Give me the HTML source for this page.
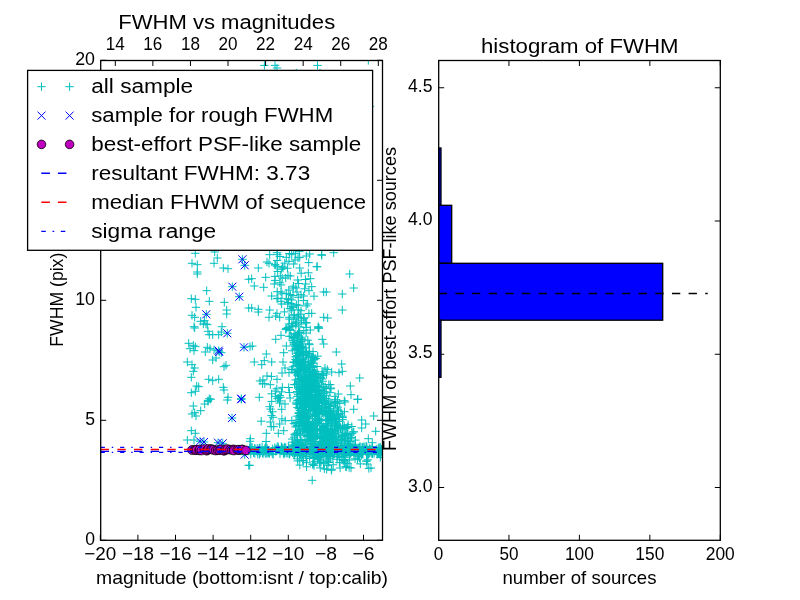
<!DOCTYPE html>
<html><head><meta charset="utf-8"><style>
html,body{margin:0;padding:0;background:#fff;}
svg{display:block;will-change:transform;}
text{font-family:"Liberation Sans",sans-serif;fill:#000;}
</style></head><body>
<svg width="800" height="600" viewBox="0 0 800 600">
<defs><clipPath id="clipL"><rect x="100.7" y="60.5" width="281.8" height="479.79999999999995"/></clipPath></defs>
<rect width="800" height="600" fill="#fff"/>
<g clip-path="url(#clipL)"><path d="M191.1 253.3h8.4M195.3 249.1v8.4M187.8 263.3h8.4M192.0 259.1v8.4M193.1 264.7h8.4M197.3 260.5v8.4M193.1 272.0h8.4M197.3 267.8v8.4M193.1 274.0h8.4M197.3 269.8v8.4M213.1 258.0h8.4M217.3 253.8v8.4M209.8 263.3h8.4M214.0 259.1v8.4M219.1 268.0h8.4M223.3 263.8v8.4M223.8 268.7h8.4M228.0 264.5v8.4M202.5 290.7h8.4M206.7 286.5v8.4M187.1 298.7h8.4M191.3 294.5v8.4M191.1 299.3h8.4M195.3 295.1v8.4M205.1 301.3h8.4M209.3 297.1v8.4M191.8 307.3h8.4M196.0 303.1v8.4M220.1 302.3h8.4M224.3 298.1v8.4M222.5 310.0h8.4M226.7 305.8v8.4M222.5 314.0h8.4M226.7 309.8v8.4M187.8 315.3h8.4M192.0 311.1v8.4M190.5 317.3h8.4M194.7 313.1v8.4M200.2 320.7h8.4M204.4 316.5v8.4M201.8 324.0h8.4M206.0 319.8v8.4M196.5 321.3h8.4M200.7 317.1v8.4M210.5 252.0h8.4M214.7 247.8v8.4M244.5 279.3h8.4M248.7 275.1v8.4M244.5 308.0h8.4M248.7 303.8v8.4M189.8 326.7h8.4M194.0 322.5v8.4M217.8 326.7h8.4M222.0 322.5v8.4M265.5 254.7h8.4M269.7 250.5v8.4M272.8 252.7h8.4M277.0 248.5v8.4M262.8 262.0h8.4M267.0 257.8v8.4M264.8 263.3h8.4M269.0 259.1v8.4M254.1 268.0h8.4M258.3 263.8v8.4M270.8 264.7h8.4M275.0 260.5v8.4M272.8 266.7h8.4M277.0 262.5v8.4M278.8 268.0h8.4M283.0 263.8v8.4M282.1 257.3h8.4M286.3 253.1v8.4M284.8 261.3h8.4M289.0 257.1v8.4M287.5 254.7h8.4M291.7 250.5v8.4M291.5 253.3h8.4M295.7 249.1v8.4M289.5 264.0h8.4M293.7 259.8v8.4M295.5 268.0h8.4M299.7 263.8v8.4M295.5 257.3h8.4M299.7 253.1v8.4M302.1 256.0h8.4M306.3 251.8v8.4M305.5 254.0h8.4M309.7 249.8v8.4M317.5 254.7h8.4M321.7 250.5v8.4M312.8 266.7h8.4M317.0 262.5v8.4M247.5 278.7h8.4M251.7 274.5v8.4M261.5 277.3h8.4M265.7 273.1v8.4M250.1 286.0h8.4M254.3 281.8v8.4M259.5 287.3h8.4M263.7 283.1v8.4M270.1 284.0h8.4M274.3 279.8v8.4M276.1 276.0h8.4M280.3 271.8v8.4M281.5 278.0h8.4M285.7 273.8v8.4M286.1 276.0h8.4M290.3 271.8v8.4M293.5 280.0h8.4M297.7 275.8v8.4M306.1 278.7h8.4M310.3 274.5v8.4M301.5 284.0h8.4M305.7 279.8v8.4M307.5 286.7h8.4M311.7 282.5v8.4M267.5 296.0h8.4M271.7 291.8v8.4M276.8 292.0h8.4M281.0 287.8v8.4M282.1 293.3h8.4M286.3 289.1v8.4M288.8 288.0h8.4M293.0 283.8v8.4M292.8 292.0h8.4M297.0 287.8v8.4M296.8 294.7h8.4M301.0 290.5v8.4M304.8 290.7h8.4M309.0 286.5v8.4M319.5 292.0h8.4M323.7 287.8v8.4M272.8 298.7h8.4M277.0 294.5v8.4M276.8 301.3h8.4M281.0 297.1v8.4M282.1 298.7h8.4M286.3 294.5v8.4M287.5 300.0h8.4M291.7 295.8v8.4M294.1 297.3h8.4M298.3 293.1v8.4M299.5 296.0h8.4M303.7 291.8v8.4M247.5 308.0h8.4M251.7 303.8v8.4M254.1 309.3h8.4M258.3 305.1v8.4M254.1 312.0h8.4M258.3 307.8v8.4M265.5 310.0h8.4M269.7 305.8v8.4M272.8 313.3h8.4M277.0 309.1v8.4M277.5 304.0h8.4M281.7 299.8v8.4M283.5 304.0h8.4M287.7 299.8v8.4M288.8 306.7h8.4M293.0 302.5v8.4M294.1 305.3h8.4M298.3 301.1v8.4M303.5 304.0h8.4M307.7 299.8v8.4M296.8 310.7h8.4M301.0 306.5v8.4M307.5 313.3h8.4M311.7 309.1v8.4M264.8 317.3h8.4M269.0 313.1v8.4M271.5 316.0h8.4M275.7 311.8v8.4M275.5 317.3h8.4M279.7 313.1v8.4M284.8 317.3h8.4M289.0 313.1v8.4M290.1 314.7h8.4M294.3 310.5v8.4M294.1 317.3h8.4M298.3 313.1v8.4M299.5 318.7h8.4M303.7 314.5v8.4M291.5 322.7h8.4M295.7 318.5v8.4M284.8 324.0h8.4M289.0 319.8v8.4M296.8 324.0h8.4M301.0 319.8v8.4M287.5 326.7h8.4M291.7 322.5v8.4M314.1 328.0h8.4M318.3 323.8v8.4M319.5 317.3h8.4M323.7 313.1v8.4M317.5 255.3h8.4M321.7 251.1v8.4M329.5 252.7h8.4M333.7 248.5v8.4M312.8 266.7h8.4M317.0 262.5v8.4M345.5 274.0h8.4M349.7 269.8v8.4M349.5 288.0h8.4M353.7 283.8v8.4M322.1 292.0h8.4M326.3 287.8v8.4M338.1 294.0h8.4M342.3 289.8v8.4M338.1 310.0h8.4M342.3 305.8v8.4M323.5 318.0h8.4M327.7 313.8v8.4M314.1 326.7h8.4M318.3 322.5v8.4M190.5 328.0h8.4M194.7 323.8v8.4M199.1 324.0h8.4M203.3 319.8v8.4M203.1 324.7h8.4M207.3 320.5v8.4M203.8 331.3h8.4M208.0 327.1v8.4M205.1 334.7h8.4M209.3 330.5v8.4M208.5 334.7h8.4M212.7 330.5v8.4M214.5 334.7h8.4M218.7 330.5v8.4M217.1 332.0h8.4M221.3 327.8v8.4M184.5 343.3h8.4M188.7 339.1v8.4M189.1 345.3h8.4M193.3 341.1v8.4M191.1 346.7h8.4M195.3 342.5v8.4M185.8 348.7h8.4M190.0 344.5v8.4M189.8 350.7h8.4M194.0 346.5v8.4M203.1 347.3h8.4M207.3 343.1v8.4M201.1 352.0h8.4M205.3 347.8v8.4M205.8 348.7h8.4M210.0 344.5v8.4M209.8 350.0h8.4M214.0 345.8v8.4M217.1 352.7h8.4M221.3 348.5v8.4M183.1 362.0h8.4M187.3 357.8v8.4M187.8 364.7h8.4M192.0 360.5v8.4M190.5 368.0h8.4M194.7 363.8v8.4M189.1 371.3h8.4M193.3 367.1v8.4M208.5 360.0h8.4M212.7 355.8v8.4M211.8 358.0h8.4M216.0 353.8v8.4M219.8 366.7h8.4M224.0 362.5v8.4M221.8 365.3h8.4M226.0 361.1v8.4M187.1 377.3h8.4M191.3 373.1v8.4M204.5 379.3h8.4M208.7 375.1v8.4M208.5 380.7h8.4M212.7 376.5v8.4M214.5 379.3h8.4M218.7 375.1v8.4M192.5 386.0h8.4M196.7 381.8v8.4M194.5 386.7h8.4M198.7 382.5v8.4M187.1 392.7h8.4M191.3 388.5v8.4M191.1 391.3h8.4M195.3 387.1v8.4M219.1 387.3h8.4M223.3 383.1v8.4M219.8 390.0h8.4M224.0 385.8v8.4M205.1 398.7h8.4M209.3 394.5v8.4M203.8 400.7h8.4M208.0 396.5v8.4M223.8 397.3h8.4M228.0 393.1v8.4M245.8 346.7h8.4M250.0 342.5v8.4M248.1 346.0h8.4M252.3 341.8v8.4M262.1 354.0h8.4M266.3 349.8v8.4M250.1 362.0h8.4M254.3 357.8v8.4M257.5 364.7h8.4M261.7 360.5v8.4M260.1 360.7h8.4M264.3 356.5v8.4M267.5 362.0h8.4M271.7 357.8v8.4M262.8 376.0h8.4M267.0 371.8v8.4M266.1 384.7h8.4M270.3 380.5v8.4M272.8 379.3h8.4M277.0 375.1v8.4M278.1 387.3h8.4M282.3 383.1v8.4M274.1 398.0h8.4M278.3 393.8v8.4M271.5 339.3h8.4M275.7 335.1v8.4M276.8 335.3h8.4M281.0 331.1v8.4M279.5 352.7h8.4M283.7 348.5v8.4M278.8 362.0h8.4M283.0 357.8v8.4M280.8 368.0h8.4M285.0 363.8v8.4M282.1 346.0h8.4M286.3 341.8v8.4M284.8 372.7h8.4M289.0 368.5v8.4M314.1 328.0h8.4M318.3 323.8v8.4M306.1 330.0h8.4M310.3 325.8v8.4M318.1 339.3h8.4M322.3 335.1v8.4M314.8 328.0h8.4M319.0 323.8v8.4M332.1 352.0h8.4M336.3 347.8v8.4M319.5 344.0h8.4M323.7 339.8v8.4M337.5 364.0h8.4M341.7 359.8v8.4M338.1 371.3h8.4M342.3 367.1v8.4M334.8 372.7h8.4M339.0 368.5v8.4M327.5 372.0h8.4M331.7 367.8v8.4M322.1 374.0h8.4M326.3 369.8v8.4M355.5 378.0h8.4M359.7 373.8v8.4M346.1 386.0h8.4M350.3 381.8v8.4M326.1 384.7h8.4M330.3 380.5v8.4M326.8 388.0h8.4M331.0 383.8v8.4M334.1 394.0h8.4M338.3 389.8v8.4M346.8 394.7h8.4M351.0 390.5v8.4M353.5 399.3h8.4M357.7 395.1v8.4M340.1 400.7h8.4M344.3 396.5v8.4M189.1 406.0h8.4M193.3 401.8v8.4M190.5 412.7h8.4M194.7 408.5v8.4M191.8 416.0h8.4M196.0 411.8v8.4M187.8 414.0h8.4M192.0 409.8v8.4M196.5 410.7h8.4M200.7 406.5v8.4M200.5 404.0h8.4M204.7 399.8v8.4M203.8 401.3h8.4M208.0 397.1v8.4M206.5 399.3h8.4M210.7 395.1v8.4M223.1 400.0h8.4M227.3 395.8v8.4M187.1 430.7h8.4M191.3 426.5v8.4M191.1 433.3h8.4M195.3 429.1v8.4M183.1 440.0h8.4M187.3 435.8v8.4M189.8 440.0h8.4M194.0 435.8v8.4M245.8 441.3h8.4M250.0 437.1v8.4M244.5 465.3h8.4M248.7 461.1v8.4M273.5 398.7h8.4M277.7 394.5v8.4M265.5 406.7h8.4M269.7 402.5v8.4M280.8 404.0h8.4M285.0 399.8v8.4M277.5 409.3h8.4M281.7 405.1v8.4M268.8 417.3h8.4M273.0 413.1v8.4M266.1 422.0h8.4M270.3 417.8v8.4M275.5 424.0h8.4M279.7 419.8v8.4M269.5 426.7h8.4M273.7 422.5v8.4M262.1 433.3h8.4M266.3 429.1v8.4M274.1 433.3h8.4M278.3 429.1v8.4M279.5 430.7h8.4M283.7 426.5v8.4M246.1 438.7h8.4M250.3 434.5v8.4M245.5 465.3h8.4M249.7 461.1v8.4M353.5 399.3h8.4M357.7 395.1v8.4M340.8 402.0h8.4M345.0 397.8v8.4M349.5 409.3h8.4M353.7 405.1v8.4M369.5 416.0h8.4M373.7 411.8v8.4M357.5 420.0h8.4M361.7 415.8v8.4M361.5 424.0h8.4M365.7 419.8v8.4M357.5 428.0h8.4M361.7 423.8v8.4M371.5 431.3h8.4M375.7 427.1v8.4M364.1 438.7h8.4M368.3 434.5v8.4M368.1 442.7h8.4M372.3 438.5v8.4M362.8 464.0h8.4M367.0 459.8v8.4M366.8 468.0h8.4M371.0 463.8v8.4M327.5 469.3h8.4M331.7 465.1v8.4M346.8 468.0h8.4M351.0 463.8v8.4M376.1 457.3h8.4M380.3 453.1v8.4M308.0 480.3h8.4M312.2 476.1v8.4M327.1 470.3h8.4M331.3 466.1v8.4M344.9 467.5h8.4M349.1 463.3v8.4M364.6 468.4h8.4M368.8 464.2v8.4M260.2 65.4h8.4M264.4 61.2v8.4M270.8 65.4h8.4M275.0 61.2v8.4M272.8 68.0h8.4M277.0 63.8v8.4M279.8 74.0h8.4M284.0 69.8v8.4M292.1 73.0h8.4M296.3 68.8v8.4M295.8 74.0h8.4M300.0 69.8v8.4M313.3 65.4h8.4M317.5 61.2v8.4M315.8 73.0h8.4M320.0 68.8v8.4M364.1 60.5h8.4M368.3 56.3v8.4M365.8 106.3h8.4M370.0 102.1v8.4M238.2 259.3h8.4M242.4 255.1v8.4M240.5 265.3h8.4M244.7 261.1v8.4M228.1 286.7h8.4M232.3 282.5v8.4M235.1 296.7h8.4M239.3 292.5v8.4M202.1 314.3h8.4M206.3 310.1v8.4M223.1 333.3h8.4M227.3 329.1v8.4M214.5 350.7h8.4M218.7 346.5v8.4M215.1 352.0h8.4M219.3 347.8v8.4M239.8 347.3h8.4M244.0 343.1v8.4M237.1 398.7h8.4M241.3 394.5v8.4M237.1 399.3h8.4M241.3 395.1v8.4M227.8 418.0h8.4M232.0 413.8v8.4M195.8 441.3h8.4M200.0 437.1v8.4M199.8 442.0h8.4M204.0 437.8v8.4M213.8 442.7h8.4M218.0 438.5v8.4M218.5 443.3h8.4M222.7 439.1v8.4M240.5 454.7h8.4M244.7 450.5v8.4M271.3 246.1h8.4M275.5 241.9v8.4M285.3 248.1h8.4M289.5 243.9v8.4M289.6 249.6h8.4M293.8 245.4v8.4M295.1 251.3h8.4M299.3 247.1v8.4M285.2 253.5h8.4M289.4 249.3v8.4M273.3 254.6h8.4M277.5 250.4v8.4M275.7 256.5h8.4M279.9 252.3v8.4M293.8 257.8h8.4M298.0 253.6v8.4M290.9 259.9h8.4M295.1 255.7v8.4M272.9 260.5h8.4M277.1 256.3v8.4M304.5 262.6h8.4M308.7 258.4v8.4M280.6 263.1h8.4M284.8 258.9v8.4M271.0 265.1h8.4M275.2 260.9v8.4M278.2 266.9h8.4M282.4 262.7v8.4M283.2 268.2h8.4M287.4 264.0v8.4M277.1 269.3h8.4M281.3 265.1v8.4M273.5 271.5h8.4M277.7 267.3v8.4M304.1 272.8h8.4M308.3 268.6v8.4M297.0 273.2h8.4M301.2 269.0v8.4M283.8 275.4h8.4M288.0 271.2v8.4M270.7 276.4h8.4M274.9 272.2v8.4M278.0 278.1h8.4M282.2 273.9v8.4M301.2 279.5h8.4M305.4 275.3v8.4M270.9 280.4h8.4M275.1 276.2v8.4M275.6 282.8h8.4M279.8 278.6v8.4M294.4 283.5h8.4M298.6 279.3v8.4M276.9 284.9h8.4M281.1 280.7v8.4M289.3 286.2h8.4M293.5 282.0v8.4M291.7 287.9h8.4M295.9 283.7v8.4M300.4 288.8h8.4M304.6 284.6v8.4M284.6 290.1h8.4M288.8 285.9v8.4M273.0 291.7h8.4M277.2 287.5v8.4M277.8 293.8h8.4M282.0 289.6v8.4M286.1 294.6h8.4M290.3 290.4v8.4M288.8 295.6h8.4M293.0 291.4v8.4M309.8 296.2h8.4M314.0 292.0v8.4M273.7 298.3h8.4M277.9 294.1v8.4M284.2 299.3h8.4M288.4 295.1v8.4M299.2 300.6h8.4M303.4 296.4v8.4M283.8 302.5h8.4M288.0 298.3v8.4M287.1 303.6h8.4M291.3 299.4v8.4M292.2 304.7h8.4M296.4 300.5v8.4M301.9 305.9h8.4M306.1 301.7v8.4M288.9 307.3h8.4M293.1 303.1v8.4M285.8 308.6h8.4M290.0 304.4v8.4M294.0 309.8h8.4M298.2 305.6v8.4M287.4 310.1h8.4M291.6 305.9v8.4M280.2 311.9h8.4M284.4 307.7v8.4M304.7 313.5h8.4M308.9 309.3v8.4M295.9 314.2h8.4M300.1 310.0v8.4M289.8 315.8h8.4M294.0 311.6v8.4M294.0 316.0h8.4M298.2 311.8v8.4M299.9 317.8h8.4M304.1 313.6v8.4M289.6 319.0h8.4M293.8 314.8v8.4M285.2 319.1h8.4M289.4 314.9v8.4M297.3 320.2h8.4M301.5 316.0v8.4M292.4 322.0h8.4M296.6 317.8v8.4M301.5 322.5h8.4M305.7 318.3v8.4M302.5 323.0h8.4M306.7 318.8v8.4M287.7 323.5h8.4M291.9 319.3v8.4M291.7 325.0h8.4M295.9 320.8v8.4M288.7 325.8h8.4M292.9 321.6v8.4M294.5 326.8h8.4M298.7 322.6v8.4M302.0 327.4h8.4M306.2 323.2v8.4M283.8 327.5h8.4M288.0 323.3v8.4M282.1 328.5h8.4M286.3 324.3v8.4M285.8 329.5h8.4M290.0 325.3v8.4M281.5 329.6h8.4M285.7 325.4v8.4M299.6 330.6h8.4M303.8 326.4v8.4M285.9 330.3h8.4M290.1 326.1v8.4M295.4 332.0h8.4M299.6 327.8v8.4M294.3 332.9h8.4M298.5 328.7v8.4M294.8 332.8h8.4M299.0 328.6v8.4M290.9 333.9h8.4M295.1 329.7v8.4M301.9 333.1h8.4M306.1 328.9v8.4M289.9 334.1h8.4M294.1 329.9v8.4M293.1 334.1h8.4M297.3 329.9v8.4M294.9 336.0h8.4M299.1 331.8v8.4M293.2 335.3h8.4M297.4 331.1v8.4M285.0 336.3h8.4M289.2 332.1v8.4M287.1 336.2h8.4M291.3 332.0v8.4M290.8 338.0h8.4M295.0 333.8v8.4M297.2 337.2h8.4M301.4 333.0v8.4M289.0 337.4h8.4M293.2 333.2v8.4M297.1 339.0h8.4M301.3 334.8v8.4M289.4 338.2h8.4M293.6 334.0v8.4M298.1 339.9h8.4M302.3 335.7v8.4M297.5 339.0h8.4M301.7 334.8v8.4M292.5 340.1h8.4M296.7 335.9v8.4M288.6 340.7h8.4M292.8 336.5v8.4M303.6 340.2h8.4M307.8 336.0v8.4M296.9 341.7h8.4M301.1 337.5v8.4M297.2 341.3h8.4M301.4 337.1v8.4M293.5 342.5h8.4M297.7 338.3v8.4M289.8 342.7h8.4M294.0 338.5v8.4M289.6 342.2h8.4M293.8 338.0v8.4M304.8 343.8h8.4M309.0 339.6v8.4M289.6 344.0h8.4M293.8 339.8v8.4M296.6 343.1h8.4M300.8 338.9v8.4M289.9 344.9h8.4M294.1 340.7v8.4M305.3 344.7h8.4M309.5 340.5v8.4M296.0 344.0h8.4M300.2 339.8v8.4M296.3 345.0h8.4M300.5 340.8v8.4M295.5 345.0h8.4M299.7 340.8v8.4M291.4 346.0h8.4M295.6 341.8v8.4M298.4 346.3h8.4M302.6 342.1v8.4M295.5 346.4h8.4M299.7 342.2v8.4M291.1 346.2h8.4M295.3 342.0v8.4M296.7 347.3h8.4M300.9 343.1v8.4M301.5 347.8h8.4M305.7 343.6v8.4M296.3 347.3h8.4M300.5 343.1v8.4M292.5 348.4h8.4M296.7 344.2v8.4M295.7 348.8h8.4M299.9 344.6v8.4M294.3 348.2h8.4M298.5 344.0v8.4M296.1 348.4h8.4M300.3 344.2v8.4M290.8 349.1h8.4M295.0 344.9v8.4M295.4 349.1h8.4M299.6 344.9v8.4M292.6 349.4h8.4M296.8 345.2v8.4M293.7 350.1h8.4M297.9 345.9v8.4M295.1 350.2h8.4M299.3 346.0v8.4M288.1 350.8h8.4M292.3 346.6v8.4M308.8 351.6h8.4M313.0 347.4v8.4M304.8 351.3h8.4M309.0 347.1v8.4M302.4 352.0h8.4M306.6 347.8v8.4M299.9 351.4h8.4M304.1 347.2v8.4M298.3 352.5h8.4M302.5 348.3v8.4M294.9 352.8h8.4M299.1 348.6v8.4M301.9 352.4h8.4M306.1 348.2v8.4M298.6 352.1h8.4M302.8 347.9v8.4M293.5 353.0h8.4M297.7 348.8v8.4M295.8 353.4h8.4M300.0 349.2v8.4M305.3 353.6h8.4M309.5 349.4v8.4M293.4 353.5h8.4M297.6 349.3v8.4M299.3 354.0h8.4M303.5 349.8v8.4M297.5 354.5h8.4M301.7 350.3v8.4M303.7 355.0h8.4M307.9 350.8v8.4M302.0 355.9h8.4M306.2 351.7v8.4M295.0 355.2h8.4M299.2 351.0v8.4M302.1 355.0h8.4M306.3 350.8v8.4M293.2 355.4h8.4M297.4 351.2v8.4M307.2 356.8h8.4M311.4 352.6v8.4M292.4 356.8h8.4M296.6 352.6v8.4M293.0 356.3h8.4M297.2 352.1v8.4M291.4 356.9h8.4M295.6 352.7v8.4M313.5 356.2h8.4M317.7 352.0v8.4M308.9 357.5h8.4M313.1 353.3v8.4M299.1 357.9h8.4M303.3 353.7v8.4M308.1 357.4h8.4M312.3 353.2v8.4M304.4 357.1h8.4M308.6 352.9v8.4M309.6 358.6h8.4M313.8 354.4v8.4M309.7 358.8h8.4M313.9 354.6v8.4M311.5 358.5h8.4M315.7 354.3v8.4M295.0 358.7h8.4M299.2 354.5v8.4M291.3 359.5h8.4M295.5 355.3v8.4M299.1 359.7h8.4M303.3 355.5v8.4M292.5 359.9h8.4M296.7 355.7v8.4M295.2 359.7h8.4M299.4 355.5v8.4M310.0 359.6h8.4M314.2 355.4v8.4M295.6 360.0h8.4M299.8 355.8v8.4M292.3 360.7h8.4M296.5 356.5v8.4M295.3 360.1h8.4M299.5 355.9v8.4M308.4 360.0h8.4M312.6 355.8v8.4M306.7 361.1h8.4M310.9 356.9v8.4M293.7 361.4h8.4M297.9 357.2v8.4M289.6 362.0h8.4M293.8 357.8v8.4M301.3 361.4h8.4M305.5 357.2v8.4M300.2 361.9h8.4M304.4 357.7v8.4M294.9 363.0h8.4M299.1 358.8v8.4M291.6 362.3h8.4M295.8 358.1v8.4M298.6 362.6h8.4M302.8 358.4v8.4M289.6 362.4h8.4M293.8 358.2v8.4M306.8 363.0h8.4M311.0 358.8v8.4M297.1 363.5h8.4M301.3 359.3v8.4M308.7 363.3h8.4M312.9 359.1v8.4M294.6 363.8h8.4M298.8 359.6v8.4M306.8 363.2h8.4M311.0 359.0v8.4M294.4 364.2h8.4M298.6 360.0v8.4M305.9 364.2h8.4M310.1 360.0v8.4M304.0 364.7h8.4M308.2 360.5v8.4M297.7 364.2h8.4M301.9 360.0v8.4M299.6 364.6h8.4M303.8 360.4v8.4M296.2 365.7h8.4M300.4 361.5v8.4M303.9 365.8h8.4M308.1 361.6v8.4M297.6 365.5h8.4M301.8 361.3v8.4M307.8 365.6h8.4M312.0 361.4v8.4M292.5 365.4h8.4M296.7 361.2v8.4M312.9 366.5h8.4M317.1 362.3v8.4M295.2 366.5h8.4M299.4 362.3v8.4M288.8 366.8h8.4M293.0 362.6v8.4M299.2 366.8h8.4M303.4 362.6v8.4M294.7 366.0h8.4M298.9 361.8v8.4M300.3 366.3h8.4M304.5 362.1v8.4M299.0 367.1h8.4M303.2 362.9v8.4M308.6 367.6h8.4M312.8 363.4v8.4M300.5 367.5h8.4M304.7 363.3v8.4M300.5 367.4h8.4M304.7 363.2v8.4M305.5 367.3h8.4M309.7 363.1v8.4M297.2 368.6h8.4M301.4 364.4v8.4M320.8 368.1h8.4M325.0 363.9v8.4M300.8 368.8h8.4M305.0 364.6v8.4M301.7 368.7h8.4M305.9 364.5v8.4M299.5 368.9h8.4M303.7 364.7v8.4M308.3 369.5h8.4M312.5 365.3v8.4M294.8 369.9h8.4M299.0 365.7v8.4M287.9 369.4h8.4M292.1 365.2v8.4M306.7 369.6h8.4M310.9 365.4v8.4M287.1 369.5h8.4M291.3 365.3v8.4M323.1 369.6h8.4M327.3 365.4v8.4M296.3 370.2h8.4M300.5 366.0v8.4M299.7 370.3h8.4M303.9 366.1v8.4M299.9 370.3h8.4M304.1 366.1v8.4M293.2 370.8h8.4M297.4 366.6v8.4M299.5 370.9h8.4M303.7 366.7v8.4M300.1 370.6h8.4M304.3 366.4v8.4M301.5 371.7h8.4M305.7 367.5v8.4M309.9 371.0h8.4M314.1 366.8v8.4M310.2 371.6h8.4M314.4 367.4v8.4M293.9 371.4h8.4M298.1 367.2v8.4M318.8 371.8h8.4M323.0 367.6v8.4M306.3 371.4h8.4M310.5 367.2v8.4M306.0 372.2h8.4M310.2 368.0v8.4M290.6 372.2h8.4M294.8 368.0v8.4M291.6 372.6h8.4M295.8 368.4v8.4M304.8 372.1h8.4M309.0 367.9v8.4M304.6 372.4h8.4M308.8 368.2v8.4M302.0 372.8h8.4M306.2 368.6v8.4M294.4 373.9h8.4M298.6 369.7v8.4M318.6 374.0h8.4M322.8 369.8v8.4M317.7 373.6h8.4M321.9 369.4v8.4M295.7 373.9h8.4M299.9 369.7v8.4M293.4 373.0h8.4M297.6 368.8v8.4M311.1 373.8h8.4M315.3 369.6v8.4M306.5 374.2h8.4M310.7 370.0v8.4M313.8 374.7h8.4M318.0 370.5v8.4M308.7 374.1h8.4M312.9 369.9v8.4M313.8 374.9h8.4M318.0 370.7v8.4M311.9 374.4h8.4M316.1 370.2v8.4M309.2 374.0h8.4M313.4 369.8v8.4M293.1 375.0h8.4M297.3 370.8v8.4M308.4 375.4h8.4M312.6 371.2v8.4M319.1 375.6h8.4M323.3 371.4v8.4M294.3 376.0h8.4M298.5 371.8v8.4M294.9 375.4h8.4M299.1 371.2v8.4M305.7 375.4h8.4M309.9 371.2v8.4M311.3 376.8h8.4M315.5 372.6v8.4M302.7 376.1h8.4M306.9 371.9v8.4M308.9 376.7h8.4M313.1 372.5v8.4M300.1 376.3h8.4M304.3 372.1v8.4M312.5 376.1h8.4M316.7 371.9v8.4M302.7 376.3h8.4M306.9 372.1v8.4M304.6 376.1h8.4M308.8 371.9v8.4M305.9 377.2h8.4M310.1 373.0v8.4M312.1 377.7h8.4M316.3 373.5v8.4M316.6 377.3h8.4M320.8 373.1v8.4M298.1 377.7h8.4M302.3 373.5v8.4M298.7 377.2h8.4M302.9 373.0v8.4M301.0 377.7h8.4M305.2 373.5v8.4M316.5 378.3h8.4M320.7 374.1v8.4M318.2 378.9h8.4M322.4 374.7v8.4M303.8 378.6h8.4M308.0 374.4v8.4M294.8 378.8h8.4M299.0 374.6v8.4M304.6 378.5h8.4M308.8 374.3v8.4M306.2 378.2h8.4M310.4 374.0v8.4M300.8 378.2h8.4M305.0 374.0v8.4M291.4 379.9h8.4M295.6 375.7v8.4M293.9 379.1h8.4M298.1 374.9v8.4M303.0 379.7h8.4M307.2 375.5v8.4M300.3 379.5h8.4M304.5 375.3v8.4M297.6 379.4h8.4M301.8 375.2v8.4M309.3 379.4h8.4M313.5 375.2v8.4M308.6 381.0h8.4M312.8 376.8v8.4M310.8 380.9h8.4M315.0 376.7v8.4M298.5 380.6h8.4M302.7 376.4v8.4M297.7 380.3h8.4M301.9 376.1v8.4M312.6 380.3h8.4M316.8 376.1v8.4M311.6 380.1h8.4M315.8 375.9v8.4M306.6 380.8h8.4M310.8 376.6v8.4M307.0 381.7h8.4M311.2 377.5v8.4M301.1 381.2h8.4M305.3 377.0v8.4M310.5 381.2h8.4M314.7 377.0v8.4M309.8 381.2h8.4M314.0 377.0v8.4M299.1 381.4h8.4M303.3 377.2v8.4M318.6 381.2h8.4M322.8 377.0v8.4M296.9 381.8h8.4M301.1 377.6v8.4M307.6 382.9h8.4M311.8 378.7v8.4M313.9 382.6h8.4M318.1 378.4v8.4M305.0 382.6h8.4M309.2 378.4v8.4M296.9 382.3h8.4M301.1 378.1v8.4M305.9 382.5h8.4M310.1 378.3v8.4M302.1 382.6h8.4M306.3 378.4v8.4M301.8 382.4h8.4M306.0 378.2v8.4M292.8 383.8h8.4M297.0 379.6v8.4M304.9 383.4h8.4M309.1 379.2v8.4M304.8 383.4h8.4M309.0 379.2v8.4M304.9 383.4h8.4M309.1 379.2v8.4M311.5 383.8h8.4M315.7 379.6v8.4M300.4 383.8h8.4M304.6 379.6v8.4M304.9 383.5h8.4M309.1 379.3v8.4M290.3 384.6h8.4M294.5 380.4v8.4M299.8 384.7h8.4M304.0 380.5v8.4M290.4 384.5h8.4M294.6 380.3v8.4M302.3 385.0h8.4M306.5 380.8v8.4M317.5 384.1h8.4M321.7 379.9v8.4M292.4 384.8h8.4M296.6 380.6v8.4M324.6 384.6h8.4M328.8 380.4v8.4M307.7 385.9h8.4M311.9 381.7v8.4M309.4 385.9h8.4M313.6 381.7v8.4M303.4 385.2h8.4M307.6 381.0v8.4M301.0 385.4h8.4M305.2 381.2v8.4M302.5 385.1h8.4M306.7 380.9v8.4M312.8 385.4h8.4M317.0 381.2v8.4M306.7 385.0h8.4M310.9 380.8v8.4M321.0 386.8h8.4M325.2 382.6v8.4M294.6 386.2h8.4M298.8 382.0v8.4M306.2 386.5h8.4M310.4 382.3v8.4M314.2 386.3h8.4M318.4 382.1v8.4M301.6 386.5h8.4M305.8 382.3v8.4M300.2 386.7h8.4M304.4 382.5v8.4M312.9 386.3h8.4M317.1 382.1v8.4M315.0 387.5h8.4M319.2 383.3v8.4M307.6 387.3h8.4M311.8 383.1v8.4M301.9 387.9h8.4M306.1 383.7v8.4M309.6 387.4h8.4M313.8 383.2v8.4M314.3 387.4h8.4M318.5 383.2v8.4M319.4 387.0h8.4M323.6 382.8v8.4M295.0 387.3h8.4M299.2 383.1v8.4M301.6 388.4h8.4M305.8 384.2v8.4M326.4 388.8h8.4M330.6 384.6v8.4M299.4 388.7h8.4M303.6 384.5v8.4M302.2 388.8h8.4M306.4 384.6v8.4M294.7 388.1h8.4M298.9 383.9v8.4M309.9 388.1h8.4M314.1 383.9v8.4M322.1 388.5h8.4M326.3 384.3v8.4M308.6 388.1h8.4M312.8 383.9v8.4M315.6 389.9h8.4M319.8 385.7v8.4M301.0 389.8h8.4M305.2 385.6v8.4M313.7 389.8h8.4M317.9 385.6v8.4M305.2 389.3h8.4M309.4 385.1v8.4M297.4 389.4h8.4M301.6 385.2v8.4M294.9 389.6h8.4M299.1 385.4v8.4M295.9 389.9h8.4M300.1 385.7v8.4M316.9 390.1h8.4M321.1 385.9v8.4M298.7 390.2h8.4M302.9 386.0v8.4M304.9 390.2h8.4M309.1 386.0v8.4M305.7 390.6h8.4M309.9 386.4v8.4M306.8 390.9h8.4M311.0 386.7v8.4M314.6 390.7h8.4M318.8 386.5v8.4M311.3 390.2h8.4M315.5 386.0v8.4M311.1 390.5h8.4M315.3 386.3v8.4M310.2 391.8h8.4M314.4 387.6v8.4M300.6 391.3h8.4M304.8 387.1v8.4M297.9 392.0h8.4M302.1 387.8v8.4M320.4 391.6h8.4M324.6 387.4v8.4M307.5 391.4h8.4M311.7 387.2v8.4M293.0 391.6h8.4M297.2 387.4v8.4M313.9 391.5h8.4M318.1 387.3v8.4M296.8 391.5h8.4M301.0 387.3v8.4M306.7 392.5h8.4M310.9 388.3v8.4M306.3 392.6h8.4M310.5 388.4v8.4M325.7 392.7h8.4M329.9 388.5v8.4M300.5 392.8h8.4M304.7 388.6v8.4M307.6 392.4h8.4M311.8 388.2v8.4M292.7 392.9h8.4M296.9 388.7v8.4M306.4 392.9h8.4M310.6 388.7v8.4M297.7 393.1h8.4M301.9 388.9v8.4M315.1 393.1h8.4M319.3 388.9v8.4M318.9 393.2h8.4M323.1 389.0v8.4M302.0 393.0h8.4M306.2 388.8v8.4M299.5 393.4h8.4M303.7 389.2v8.4M301.2 393.8h8.4M305.4 389.6v8.4M303.0 393.2h8.4M307.2 389.0v8.4M319.9 393.2h8.4M324.1 389.0v8.4M297.4 394.2h8.4M301.6 390.0v8.4M301.5 394.4h8.4M305.7 390.2v8.4M293.9 394.7h8.4M298.1 390.5v8.4M301.4 394.6h8.4M305.6 390.4v8.4M310.6 394.6h8.4M314.8 390.4v8.4M313.3 394.9h8.4M317.5 390.7v8.4M296.1 394.6h8.4M300.3 390.4v8.4M306.2 395.0h8.4M310.4 390.8v8.4M312.6 395.0h8.4M316.8 390.8v8.4M312.0 395.1h8.4M316.2 390.9v8.4M300.8 395.9h8.4M305.0 391.7v8.4M317.8 396.0h8.4M322.0 391.8v8.4M308.0 395.9h8.4M312.2 391.7v8.4M322.4 395.3h8.4M326.6 391.1v8.4M312.0 395.6h8.4M316.2 391.4v8.4M307.0 395.9h8.4M311.2 391.7v8.4M314.1 396.9h8.4M318.3 392.7v8.4M293.2 396.4h8.4M297.4 392.2v8.4M330.7 396.3h8.4M334.9 392.1v8.4M315.1 396.0h8.4M319.3 391.8v8.4M316.6 396.8h8.4M320.8 392.6v8.4M297.7 396.6h8.4M301.9 392.4v8.4M307.1 396.7h8.4M311.3 392.5v8.4M319.0 397.0h8.4M323.2 392.8v8.4M306.4 397.5h8.4M310.6 393.3v8.4M316.9 397.2h8.4M321.1 393.0v8.4M297.0 397.1h8.4M301.2 392.9v8.4M315.3 397.2h8.4M319.5 393.0v8.4M301.8 397.1h8.4M306.0 392.9v8.4M317.2 397.9h8.4M321.4 393.7v8.4M304.7 397.8h8.4M308.9 393.6v8.4M313.2 397.9h8.4M317.4 393.7v8.4M315.6 397.2h8.4M319.8 393.0v8.4M316.3 398.9h8.4M320.5 394.7v8.4M303.1 398.9h8.4M307.3 394.7v8.4M307.6 398.9h8.4M311.8 394.7v8.4M322.0 398.5h8.4M326.2 394.3v8.4M299.6 398.4h8.4M303.8 394.2v8.4M304.9 398.4h8.4M309.1 394.2v8.4M311.9 399.0h8.4M316.1 394.8v8.4M309.9 398.4h8.4M314.1 394.2v8.4M331.5 399.7h8.4M335.7 395.5v8.4M308.7 399.4h8.4M312.9 395.2v8.4M301.9 399.1h8.4M306.1 394.9v8.4M317.0 399.2h8.4M321.2 395.0v8.4M295.8 399.0h8.4M300.0 394.8v8.4M308.4 399.0h8.4M312.6 394.8v8.4M324.5 400.0h8.4M328.7 395.8v8.4M296.2 399.5h8.4M300.4 395.3v8.4M313.9 399.5h8.4M318.1 395.3v8.4M300.1 400.5h8.4M304.3 396.3v8.4M319.7 400.5h8.4M323.9 396.3v8.4M314.9 400.8h8.4M319.1 396.6v8.4M293.8 400.1h8.4M298.0 395.9v8.4M308.9 400.5h8.4M313.1 396.3v8.4M292.8 400.8h8.4M297.0 396.6v8.4M312.6 400.4h8.4M316.8 396.2v8.4M294.8 400.2h8.4M299.0 396.0v8.4M321.8 401.6h8.4M326.0 397.4v8.4M302.8 401.0h8.4M307.0 396.8v8.4M298.7 401.8h8.4M302.9 397.6v8.4M305.1 401.2h8.4M309.3 397.0v8.4M309.0 401.5h8.4M313.2 397.3v8.4M303.7 401.5h8.4M307.9 397.3v8.4M303.9 401.7h8.4M308.1 397.5v8.4M330.6 401.6h8.4M334.8 397.4v8.4M333.3 401.1h8.4M337.5 396.9v8.4M297.9 402.7h8.4M302.1 398.5v8.4M326.7 403.0h8.4M330.9 398.8v8.4M331.4 402.5h8.4M335.6 398.3v8.4M291.8 402.9h8.4M296.0 398.7v8.4M315.2 402.3h8.4M319.4 398.1v8.4M308.8 402.8h8.4M313.0 398.6v8.4M297.4 402.3h8.4M301.6 398.1v8.4M307.9 402.3h8.4M312.1 398.1v8.4M319.8 402.9h8.4M324.0 398.7v8.4M323.8 403.9h8.4M328.0 399.7v8.4M298.7 403.6h8.4M302.9 399.4v8.4M321.9 403.9h8.4M326.1 399.7v8.4M293.5 403.9h8.4M297.7 399.7v8.4M335.6 403.3h8.4M339.8 399.1v8.4M305.8 403.2h8.4M310.0 399.0v8.4M320.5 403.2h8.4M324.7 399.0v8.4M314.7 403.4h8.4M318.9 399.2v8.4M331.3 403.9h8.4M335.5 399.7v8.4M292.3 404.1h8.4M296.5 399.9v8.4M296.4 404.7h8.4M300.6 400.5v8.4M300.8 404.7h8.4M305.0 400.5v8.4M301.5 404.6h8.4M305.7 400.4v8.4M321.4 404.5h8.4M325.6 400.3v8.4M301.3 404.7h8.4M305.5 400.5v8.4M297.0 404.5h8.4M301.2 400.3v8.4M324.0 404.5h8.4M328.2 400.3v8.4M310.6 404.1h8.4M314.8 399.9v8.4M308.4 405.5h8.4M312.6 401.3v8.4M317.1 405.8h8.4M321.3 401.6v8.4M314.5 405.9h8.4M318.7 401.7v8.4M299.0 405.8h8.4M303.2 401.6v8.4M300.6 405.8h8.4M304.8 401.6v8.4M329.7 405.4h8.4M333.9 401.2v8.4M313.0 405.3h8.4M317.2 401.1v8.4M301.4 406.0h8.4M305.6 401.8v8.4M302.2 405.2h8.4M306.4 401.0v8.4M304.3 406.2h8.4M308.5 402.0v8.4M310.9 406.8h8.4M315.1 402.6v8.4M324.5 406.5h8.4M328.7 402.3v8.4M306.0 406.5h8.4M310.2 402.3v8.4M310.2 406.7h8.4M314.4 402.5v8.4M301.2 406.8h8.4M305.4 402.6v8.4M326.4 406.4h8.4M330.6 402.2v8.4M314.8 406.6h8.4M319.0 402.4v8.4M313.2 406.4h8.4M317.4 402.2v8.4M333.4 407.2h8.4M337.6 403.0v8.4M306.9 407.9h8.4M311.1 403.7v8.4M320.6 408.0h8.4M324.8 403.8v8.4M307.0 407.0h8.4M311.2 402.8v8.4M300.0 407.1h8.4M304.2 402.9v8.4M314.5 407.9h8.4M318.7 403.7v8.4M293.3 407.6h8.4M297.5 403.4v8.4M305.5 407.5h8.4M309.7 403.3v8.4M321.9 407.4h8.4M326.1 403.2v8.4M310.4 408.0h8.4M314.6 403.8v8.4M314.8 408.4h8.4M319.0 404.2v8.4M325.6 408.3h8.4M329.8 404.1v8.4M297.9 408.7h8.4M302.1 404.5v8.4M332.9 408.8h8.4M337.1 404.6v8.4M295.1 408.3h8.4M299.3 404.1v8.4M312.3 408.2h8.4M316.5 404.0v8.4M315.3 409.0h8.4M319.5 404.8v8.4M298.4 408.8h8.4M302.6 404.6v8.4M294.9 408.8h8.4M299.1 404.6v8.4M306.3 409.3h8.4M310.5 405.1v8.4M315.3 409.8h8.4M319.5 405.6v8.4M324.5 410.0h8.4M328.7 405.8v8.4M312.1 409.3h8.4M316.3 405.1v8.4M308.9 409.9h8.4M313.1 405.7v8.4M309.1 409.1h8.4M313.3 404.9v8.4M301.1 409.6h8.4M305.3 405.4v8.4M314.9 409.2h8.4M319.1 405.0v8.4M311.7 409.9h8.4M315.9 405.7v8.4M319.8 410.7h8.4M324.0 406.5v8.4M334.3 410.8h8.4M338.5 406.6v8.4M306.5 410.8h8.4M310.7 406.6v8.4M315.6 410.3h8.4M319.8 406.1v8.4M295.8 410.6h8.4M300.0 406.4v8.4M305.7 410.6h8.4M309.9 406.4v8.4M309.4 410.0h8.4M313.6 405.8v8.4M324.9 410.7h8.4M329.1 406.5v8.4M314.6 411.0h8.4M318.8 406.8v8.4M334.0 410.1h8.4M338.2 405.9v8.4M310.5 411.3h8.4M314.7 407.1v8.4M301.3 411.7h8.4M305.5 407.5v8.4M322.1 411.6h8.4M326.3 407.4v8.4M313.8 411.9h8.4M318.0 407.7v8.4M340.2 411.7h8.4M344.4 407.5v8.4M320.7 411.6h8.4M324.9 407.4v8.4M300.2 411.2h8.4M304.4 407.0v8.4M314.3 411.8h8.4M318.5 407.6v8.4M329.1 411.7h8.4M333.3 407.5v8.4M312.7 411.8h8.4M316.9 407.6v8.4M294.9 412.9h8.4M299.1 408.7v8.4M317.9 412.9h8.4M322.1 408.7v8.4M322.6 412.1h8.4M326.8 407.9v8.4M322.7 412.6h8.4M326.9 408.4v8.4M318.1 412.5h8.4M322.3 408.3v8.4M301.4 412.6h8.4M305.6 408.4v8.4M329.3 412.2h8.4M333.5 408.0v8.4M298.8 412.7h8.4M303.0 408.5v8.4M313.0 412.9h8.4M317.2 408.7v8.4M327.1 413.1h8.4M331.3 408.9v8.4M312.9 413.9h8.4M317.1 409.7v8.4M336.7 413.3h8.4M340.9 409.1v8.4M326.3 413.4h8.4M330.5 409.2v8.4M294.9 413.1h8.4M299.1 408.9v8.4M324.9 413.6h8.4M329.1 409.4v8.4M294.4 413.5h8.4M298.6 409.3v8.4M303.7 413.9h8.4M307.9 409.7v8.4M333.8 413.8h8.4M338.0 409.6v8.4M315.1 413.3h8.4M319.3 409.1v8.4M310.3 414.4h8.4M314.5 410.2v8.4M319.7 414.0h8.4M323.9 409.8v8.4M300.1 414.9h8.4M304.3 410.7v8.4M334.1 414.4h8.4M338.3 410.2v8.4M328.7 414.6h8.4M332.9 410.4v8.4M312.8 414.1h8.4M317.0 409.9v8.4M299.2 415.0h8.4M303.4 410.8v8.4M296.8 414.2h8.4M301.0 410.0v8.4M321.7 414.6h8.4M325.9 410.4v8.4M311.9 414.1h8.4M316.1 409.9v8.4M295.5 415.5h8.4M299.7 411.3v8.4M312.1 415.7h8.4M316.3 411.5v8.4M328.8 415.3h8.4M333.0 411.1v8.4M326.2 415.9h8.4M330.4 411.7v8.4M297.8 415.2h8.4M302.0 411.0v8.4M332.7 415.1h8.4M336.9 410.9v8.4M322.0 415.8h8.4M326.2 411.6v8.4M310.7 415.6h8.4M314.9 411.4v8.4M332.7 415.8h8.4M336.9 411.6v8.4M311.7 415.5h8.4M315.9 411.3v8.4M301.4 416.1h8.4M305.6 411.9v8.4M324.9 416.9h8.4M329.1 412.7v8.4M292.8 416.2h8.4M297.0 412.0v8.4M297.5 416.4h8.4M301.7 412.2v8.4M301.9 416.0h8.4M306.1 411.8v8.4M338.2 416.2h8.4M342.4 412.0v8.4M303.8 416.8h8.4M308.0 412.6v8.4M304.6 416.6h8.4M308.8 412.4v8.4M325.2 416.2h8.4M329.4 412.0v8.4M303.1 416.0h8.4M307.3 411.8v8.4M308.1 416.5h8.4M312.3 412.3v8.4M333.6 417.1h8.4M337.8 412.9v8.4M302.2 417.1h8.4M306.4 412.9v8.4M295.0 417.7h8.4M299.2 413.5v8.4M338.6 417.4h8.4M342.8 413.2v8.4M302.2 417.4h8.4M306.4 413.2v8.4M302.5 417.5h8.4M306.7 413.3v8.4M297.5 418.0h8.4M301.7 413.8v8.4M299.2 417.4h8.4M303.4 413.2v8.4M328.7 417.7h8.4M332.9 413.5v8.4M302.7 417.2h8.4M306.9 413.0v8.4M305.6 418.7h8.4M309.8 414.5v8.4M314.4 418.3h8.4M318.6 414.1v8.4M330.6 418.4h8.4M334.8 414.2v8.4M330.5 418.0h8.4M334.7 413.8v8.4M324.6 418.6h8.4M328.8 414.4v8.4M303.4 418.3h8.4M307.6 414.1v8.4M331.1 418.7h8.4M335.3 414.5v8.4M298.3 418.0h8.4M302.5 413.8v8.4M298.3 418.5h8.4M302.5 414.3v8.4M308.3 418.7h8.4M312.5 414.5v8.4M296.6 419.9h8.4M300.8 415.7v8.4M328.0 419.4h8.4M332.2 415.2v8.4M315.0 419.2h8.4M319.2 415.0v8.4M338.4 419.6h8.4M342.6 415.4v8.4M295.5 419.3h8.4M299.7 415.1v8.4M301.5 419.3h8.4M305.7 415.1v8.4M315.6 419.7h8.4M319.8 415.5v8.4M313.4 419.8h8.4M317.6 415.6v8.4M331.8 419.1h8.4M336.0 414.9v8.4M300.2 419.9h8.4M304.4 415.7v8.4M323.3 419.7h8.4M327.5 415.5v8.4M317.0 420.3h8.4M321.2 416.1v8.4M324.8 420.4h8.4M329.0 416.2v8.4M322.0 420.6h8.4M326.2 416.4v8.4M300.7 420.8h8.4M304.9 416.6v8.4M315.3 421.0h8.4M319.5 416.8v8.4M299.5 420.2h8.4M303.7 416.0v8.4M328.4 420.2h8.4M332.6 416.0v8.4M287.6 420.6h8.4M291.8 416.4v8.4M300.7 420.1h8.4M304.9 415.9v8.4M312.7 420.3h8.4M316.9 416.1v8.4M327.2 421.3h8.4M331.4 417.1v8.4M297.9 421.9h8.4M302.1 417.7v8.4M311.1 421.3h8.4M315.3 417.1v8.4M334.7 421.4h8.4M338.9 417.2v8.4M297.2 421.8h8.4M301.4 417.6v8.4M295.8 421.8h8.4M300.0 417.6v8.4M300.7 421.1h8.4M304.9 416.9v8.4M304.0 421.9h8.4M308.2 417.7v8.4M324.7 421.8h8.4M328.9 417.6v8.4M335.1 421.3h8.4M339.3 417.1v8.4M295.9 421.1h8.4M300.1 416.9v8.4M300.5 422.9h8.4M304.7 418.7v8.4M308.5 422.9h8.4M312.7 418.7v8.4M309.9 422.4h8.4M314.1 418.2v8.4M303.6 422.7h8.4M307.8 418.5v8.4M313.9 422.4h8.4M318.1 418.2v8.4M294.9 422.4h8.4M299.1 418.2v8.4M291.8 422.7h8.4M296.0 418.5v8.4M300.7 422.5h8.4M304.9 418.3v8.4M331.2 422.8h8.4M335.4 418.6v8.4M299.0 422.9h8.4M303.2 418.7v8.4M313.3 423.5h8.4M317.5 419.3v8.4M289.8 423.6h8.4M294.0 419.4v8.4M303.7 423.0h8.4M307.9 418.8v8.4M300.4 423.3h8.4M304.6 419.1v8.4M311.7 423.7h8.4M315.9 419.5v8.4M321.8 423.8h8.4M326.0 419.6v8.4M332.4 423.3h8.4M336.6 419.1v8.4M294.5 423.3h8.4M298.7 419.1v8.4M312.7 423.2h8.4M316.9 419.0v8.4M327.0 423.1h8.4M331.2 418.9v8.4M323.4 423.7h8.4M327.6 419.5v8.4M343.9 424.7h8.4M348.1 420.5v8.4M304.9 424.7h8.4M309.1 420.5v8.4M298.3 424.7h8.4M302.5 420.5v8.4M305.8 424.9h8.4M310.0 420.7v8.4M307.3 424.9h8.4M311.5 420.7v8.4M304.4 424.8h8.4M308.6 420.6v8.4M308.7 424.9h8.4M312.9 420.7v8.4M323.3 424.0h8.4M327.5 419.8v8.4M302.5 424.9h8.4M306.7 420.7v8.4M332.0 424.7h8.4M336.2 420.5v8.4M294.1 425.0h8.4M298.3 420.8v8.4M340.0 425.7h8.4M344.2 421.5v8.4M322.1 426.0h8.4M326.3 421.8v8.4M306.5 425.7h8.4M310.7 421.5v8.4M292.6 425.5h8.4M296.8 421.3v8.4M317.4 425.0h8.4M321.6 420.8v8.4M332.0 425.8h8.4M336.2 421.6v8.4M301.2 426.0h8.4M305.4 421.8v8.4M317.1 425.8h8.4M321.3 421.6v8.4M333.7 425.2h8.4M337.9 421.0v8.4M326.7 425.8h8.4M330.9 421.6v8.4M294.6 425.9h8.4M298.8 421.7v8.4M304.1 426.1h8.4M308.3 421.9v8.4M319.4 426.7h8.4M323.6 422.5v8.4M309.3 426.9h8.4M313.5 422.7v8.4M295.2 426.4h8.4M299.4 422.2v8.4M307.9 426.1h8.4M312.1 421.9v8.4M332.8 426.1h8.4M337.0 421.9v8.4M347.6 426.5h8.4M351.8 422.3v8.4M330.6 426.8h8.4M334.8 422.6v8.4M298.6 426.2h8.4M302.8 422.0v8.4M338.5 426.7h8.4M342.7 422.5v8.4M291.3 426.9h8.4M295.5 422.7v8.4M298.8 426.5h8.4M303.0 422.3v8.4M319.6 427.8h8.4M323.8 423.6v8.4M336.1 427.5h8.4M340.3 423.3v8.4M305.9 427.6h8.4M310.1 423.4v8.4M306.9 427.4h8.4M311.1 423.2v8.4M343.1 427.2h8.4M347.3 423.0v8.4M299.6 428.0h8.4M303.8 423.8v8.4M319.0 427.3h8.4M323.2 423.1v8.4M309.3 427.2h8.4M313.5 423.0v8.4M309.0 427.1h8.4M313.2 422.9v8.4M343.5 427.4h8.4M347.7 423.2v8.4M319.1 427.2h8.4M323.3 423.0v8.4M330.6 428.2h8.4M334.8 424.0v8.4M300.0 428.6h8.4M304.2 424.4v8.4M312.7 428.8h8.4M316.9 424.6v8.4M300.8 428.3h8.4M305.0 424.1v8.4M327.9 428.2h8.4M332.1 424.0v8.4M300.6 428.3h8.4M304.8 424.1v8.4M323.6 428.9h8.4M327.8 424.7v8.4M341.7 428.6h8.4M345.9 424.4v8.4M317.4 428.7h8.4M321.6 424.5v8.4M338.7 428.4h8.4M342.9 424.2v8.4M307.7 428.3h8.4M311.9 424.1v8.4M304.2 429.7h8.4M308.4 425.5v8.4M340.0 429.1h8.4M344.2 424.9v8.4M326.6 429.5h8.4M330.8 425.3v8.4M311.7 429.6h8.4M315.9 425.4v8.4M336.3 429.1h8.4M340.5 424.9v8.4M320.7 429.3h8.4M324.9 425.1v8.4M324.6 429.9h8.4M328.8 425.7v8.4M316.3 429.9h8.4M320.5 425.7v8.4M326.8 429.6h8.4M331.0 425.4v8.4M298.4 429.6h8.4M302.6 425.4v8.4M304.2 429.4h8.4M308.4 425.2v8.4M322.0 429.8h8.4M326.2 425.6v8.4M315.2 430.4h8.4M319.4 426.2v8.4M326.8 430.4h8.4M331.0 426.2v8.4M302.2 430.2h8.4M306.4 426.0v8.4M295.8 430.3h8.4M300.0 426.1v8.4M307.9 430.5h8.4M312.1 426.3v8.4M330.6 430.5h8.4M334.8 426.3v8.4M304.0 430.9h8.4M308.2 426.7v8.4M333.5 430.2h8.4M337.7 426.0v8.4M309.9 430.9h8.4M314.1 426.7v8.4M307.0 430.4h8.4M311.2 426.2v8.4M317.7 430.0h8.4M321.9 425.8v8.4M313.0 431.0h8.4M317.2 426.8v8.4M330.1 431.9h8.4M334.3 427.7v8.4M323.8 431.6h8.4M328.0 427.4v8.4M330.9 431.4h8.4M335.1 427.2v8.4M326.5 431.2h8.4M330.7 427.0v8.4M349.6 431.8h8.4M353.8 427.6v8.4M307.2 431.2h8.4M311.4 427.0v8.4M307.6 431.4h8.4M311.8 427.2v8.4M307.9 431.2h8.4M312.1 427.0v8.4M298.1 431.3h8.4M302.3 427.1v8.4M320.8 431.2h8.4M325.0 427.0v8.4M309.4 431.1h8.4M313.6 426.9v8.4M293.3 432.3h8.4M297.5 428.1v8.4M320.9 432.2h8.4M325.1 428.0v8.4M325.9 432.5h8.4M330.1 428.3v8.4M303.1 432.5h8.4M307.3 428.3v8.4M327.0 432.6h8.4M331.2 428.4v8.4M304.7 432.3h8.4M308.9 428.1v8.4M319.6 432.7h8.4M323.8 428.5v8.4M308.4 432.2h8.4M312.6 428.0v8.4M307.6 433.0h8.4M311.8 428.8v8.4M348.9 432.0h8.4M353.1 427.8v8.4M319.1 432.4h8.4M323.3 428.2v8.4M333.9 432.2h8.4M338.1 428.0v8.4M292.1 433.3h8.4M296.3 429.1v8.4M341.8 433.3h8.4M346.0 429.1v8.4M295.7 433.7h8.4M299.9 429.5v8.4M313.5 434.0h8.4M317.7 429.8v8.4M300.0 434.0h8.4M304.2 429.8v8.4M310.6 433.8h8.4M314.8 429.6v8.4M331.0 433.7h8.4M335.2 429.5v8.4M330.0 433.5h8.4M334.2 429.3v8.4M325.1 433.1h8.4M329.3 428.9v8.4M309.2 433.6h8.4M313.4 429.4v8.4M347.9 433.6h8.4M352.1 429.4v8.4M343.0 433.3h8.4M347.2 429.1v8.4M329.1 434.1h8.4M333.3 429.9v8.4M326.4 434.9h8.4M330.6 430.7v8.4M324.6 434.5h8.4M328.8 430.3v8.4M343.7 434.6h8.4M347.9 430.4v8.4M305.9 434.6h8.4M310.1 430.4v8.4M321.7 434.6h8.4M325.9 430.4v8.4M338.1 434.2h8.4M342.3 430.0v8.4M306.7 434.3h8.4M310.9 430.1v8.4M309.3 434.2h8.4M313.5 430.0v8.4M290.6 434.8h8.4M294.8 430.6v8.4M290.6 434.1h8.4M294.8 429.9v8.4M304.6 434.5h8.4M308.8 430.3v8.4M292.8 435.2h8.4M297.0 431.0v8.4M341.1 435.9h8.4M345.3 431.7v8.4M337.9 435.2h8.4M342.1 431.0v8.4M320.6 435.6h8.4M324.8 431.4v8.4M303.0 435.5h8.4M307.2 431.3v8.4M338.2 435.5h8.4M342.4 431.3v8.4M313.2 435.4h8.4M317.4 431.2v8.4M306.8 435.8h8.4M311.0 431.6v8.4M321.9 435.9h8.4M326.1 431.7v8.4M296.4 435.2h8.4M300.6 431.0v8.4M326.9 435.4h8.4M331.1 431.2v8.4M343.3 435.1h8.4M347.5 430.9v8.4M343.3 436.0h8.4M347.5 431.8v8.4M318.6 436.2h8.4M322.8 432.0v8.4M303.8 436.8h8.4M308.0 432.6v8.4M303.0 436.4h8.4M307.2 432.2v8.4M312.6 436.5h8.4M316.8 432.3v8.4M303.9 436.3h8.4M308.1 432.1v8.4M323.6 436.1h8.4M327.8 431.9v8.4M307.8 436.4h8.4M312.0 432.2v8.4M305.1 436.8h8.4M309.3 432.6v8.4M328.9 436.2h8.4M333.1 432.0v8.4M337.7 436.6h8.4M341.9 432.4v8.4M305.2 436.4h8.4M309.4 432.2v8.4M317.6 437.2h8.4M321.8 433.0v8.4M332.4 437.2h8.4M336.6 433.0v8.4M316.1 437.8h8.4M320.3 433.6v8.4M334.2 437.2h8.4M338.4 433.0v8.4M329.0 437.2h8.4M333.2 433.0v8.4M347.2 437.4h8.4M351.4 433.2v8.4M290.1 437.2h8.4M294.3 433.0v8.4M307.5 437.9h8.4M311.7 433.7v8.4M329.1 437.5h8.4M333.3 433.3v8.4M317.7 437.7h8.4M321.9 433.5v8.4M319.5 437.6h8.4M323.7 433.4v8.4M308.9 437.3h8.4M313.1 433.1v8.4M326.9 438.4h8.4M331.1 434.2v8.4M319.6 438.6h8.4M323.8 434.4v8.4M340.9 438.9h8.4M345.1 434.7v8.4M346.4 438.2h8.4M350.6 434.0v8.4M315.6 438.4h8.4M319.8 434.2v8.4M339.9 438.3h8.4M344.1 434.1v8.4M308.3 439.0h8.4M312.5 434.8v8.4M329.4 438.8h8.4M333.6 434.6v8.4M311.1 438.4h8.4M315.3 434.2v8.4M328.3 438.4h8.4M332.5 434.2v8.4M338.2 438.1h8.4M342.4 433.9v8.4M343.5 438.7h8.4M347.7 434.5v8.4M296.1 439.4h8.4M300.3 435.2v8.4M306.3 439.5h8.4M310.5 435.3v8.4M303.3 439.6h8.4M307.5 435.4v8.4M323.5 439.1h8.4M327.7 434.9v8.4M337.0 439.5h8.4M341.2 435.3v8.4M323.3 439.8h8.4M327.5 435.6v8.4M325.4 439.8h8.4M329.6 435.6v8.4M306.6 439.1h8.4M310.8 434.9v8.4M324.2 439.1h8.4M328.4 434.9v8.4M288.0 439.1h8.4M292.2 434.9v8.4M330.0 439.8h8.4M334.2 435.6v8.4M309.8 439.3h8.4M314.0 435.1v8.4M322.0 440.7h8.4M326.2 436.5v8.4M340.1 440.3h8.4M344.3 436.1v8.4M351.2 440.1h8.4M355.4 435.9v8.4M303.6 440.3h8.4M307.8 436.1v8.4M293.2 440.1h8.4M297.4 435.9v8.4M318.6 440.2h8.4M322.8 436.0v8.4M293.2 440.9h8.4M297.4 436.7v8.4M331.7 440.1h8.4M335.9 435.9v8.4M337.4 440.4h8.4M341.6 436.2v8.4M343.1 440.6h8.4M347.3 436.4v8.4M322.1 440.4h8.4M326.3 436.2v8.4M297.7 440.5h8.4M301.9 436.3v8.4M345.8 441.5h8.4M350.0 437.3v8.4M306.0 441.1h8.4M310.2 436.9v8.4M311.5 441.4h8.4M315.7 437.2v8.4M318.6 441.4h8.4M322.8 437.2v8.4M321.3 441.4h8.4M325.5 437.2v8.4M301.8 442.0h8.4M306.0 437.8v8.4M344.2 441.9h8.4M348.4 437.7v8.4M308.9 441.5h8.4M313.1 437.3v8.4M333.0 441.1h8.4M337.2 436.9v8.4M318.1 441.7h8.4M322.3 437.5v8.4M327.2 441.8h8.4M331.4 437.6v8.4M322.4 441.6h8.4M326.6 437.4v8.4M328.3 442.5h8.4M332.5 438.3v8.4M332.2 442.8h8.4M336.4 438.6v8.4M288.0 442.2h8.4M292.2 438.0v8.4M317.2 442.8h8.4M321.4 438.6v8.4M320.0 442.2h8.4M324.2 438.0v8.4M321.5 442.0h8.4M325.7 437.8v8.4M292.7 442.7h8.4M296.9 438.5v8.4M300.9 442.2h8.4M305.1 438.0v8.4M329.1 442.2h8.4M333.3 438.0v8.4M291.2 442.9h8.4M295.4 438.7v8.4M337.8 442.0h8.4M342.0 437.8v8.4M320.3 443.9h8.4M324.5 439.7v8.4M292.4 443.2h8.4M296.6 439.0v8.4M307.2 443.5h8.4M311.4 439.3v8.4M343.4 443.5h8.4M347.6 439.3v8.4M327.8 443.9h8.4M332.0 439.7v8.4M295.8 443.5h8.4M300.0 439.3v8.4M320.2 444.0h8.4M324.4 439.8v8.4M331.7 443.5h8.4M335.9 439.3v8.4M320.4 443.9h8.4M324.6 439.7v8.4M295.7 443.4h8.4M299.9 439.2v8.4M292.7 443.7h8.4M296.9 439.5v8.4M309.0 443.4h8.4M313.2 439.2v8.4M326.1 444.9h8.4M330.3 440.7v8.4M320.0 444.9h8.4M324.2 440.7v8.4M349.9 444.3h8.4M354.1 440.1v8.4M294.4 444.0h8.4M298.6 439.8v8.4M310.5 444.5h8.4M314.7 440.3v8.4M301.5 444.6h8.4M305.7 440.4v8.4M328.5 444.1h8.4M332.7 439.9v8.4M298.4 444.3h8.4M302.6 440.1v8.4M324.2 444.8h8.4M328.4 440.6v8.4M294.2 444.5h8.4M298.4 440.3v8.4M311.8 444.6h8.4M316.0 440.4v8.4M313.3 445.4h8.4M317.5 441.2v8.4M329.6 445.4h8.4M333.8 441.2v8.4M288.8 445.2h8.4M293.0 441.0v8.4M289.1 445.1h8.4M293.3 440.9v8.4M296.7 445.2h8.4M300.9 441.0v8.4M336.9 445.7h8.4M341.1 441.5v8.4M351.3 445.7h8.4M355.5 441.5v8.4M344.3 445.4h8.4M348.5 441.2v8.4M314.1 445.4h8.4M318.3 441.2v8.4M340.4 445.1h8.4M344.6 440.9v8.4M310.6 445.6h8.4M314.8 441.4v8.4M299.2 446.5h8.4M303.4 442.3v8.4M316.2 446.4h8.4M320.4 442.2v8.4M315.3 446.4h8.4M319.5 442.2v8.4M340.0 446.4h8.4M344.2 442.2v8.4M336.3 446.9h8.4M340.5 442.7v8.4M314.1 446.3h8.4M318.3 442.1v8.4M368.1 446.4h8.4M372.3 442.2v8.4M298.4 446.2h8.4M302.6 442.0v8.4M313.3 446.8h8.4M317.5 442.6v8.4M327.7 446.3h8.4M331.9 442.1v8.4M318.7 446.2h8.4M322.9 442.0v8.4M308.2 447.1h8.4M312.4 442.9v8.4M297.6 447.3h8.4M301.8 443.1v8.4M318.3 447.4h8.4M322.5 443.2v8.4M299.8 447.2h8.4M304.0 443.0v8.4M297.3 447.9h8.4M301.5 443.7v8.4M325.9 447.6h8.4M330.1 443.4v8.4M301.0 447.4h8.4M305.2 443.2v8.4M301.2 447.2h8.4M305.4 443.0v8.4M317.2 447.8h8.4M321.4 443.6v8.4M295.3 447.6h8.4M299.5 443.4v8.4M313.9 447.5h8.4M318.1 443.3v8.4M296.7 448.9h8.4M300.9 444.7v8.4M300.3 448.2h8.4M304.5 444.0v8.4M304.9 448.4h8.4M309.1 444.2v8.4M311.4 448.3h8.4M315.6 444.1v8.4M323.8 448.0h8.4M328.0 443.8v8.4M334.7 448.1h8.4M338.9 443.9v8.4M301.5 448.7h8.4M305.7 444.5v8.4M293.3 448.9h8.4M297.5 444.7v8.4M342.4 449.0h8.4M346.6 444.8v8.4M344.1 448.4h8.4M348.3 444.2v8.4M306.1 449.0h8.4M310.3 444.8v8.4M292.0 449.3h8.4M296.2 445.1v8.4M340.8 449.6h8.4M345.0 445.4v8.4M299.1 449.9h8.4M303.3 445.7v8.4M314.9 450.0h8.4M319.1 445.8v8.4M320.0 450.0h8.4M324.2 445.8v8.4M344.2 449.1h8.4M348.4 444.9v8.4M313.9 449.7h8.4M318.1 445.5v8.4M334.5 449.3h8.4M338.7 445.1v8.4M297.4 449.9h8.4M301.6 445.7v8.4M293.3 449.1h8.4M297.5 444.9v8.4M296.5 450.3h8.4M300.7 446.1v8.4M313.6 451.0h8.4M317.8 446.8v8.4M313.8 450.9h8.4M318.0 446.7v8.4M314.7 450.9h8.4M318.9 446.7v8.4M352.6 450.4h8.4M356.8 446.2v8.4M317.2 450.1h8.4M321.4 445.9v8.4M359.2 450.5h8.4M363.4 446.3v8.4M353.0 451.0h8.4M357.2 446.8v8.4M337.6 450.0h8.4M341.8 445.8v8.4M350.6 450.4h8.4M354.8 446.2v8.4M304.0 451.7h8.4M308.2 447.5v8.4M296.2 451.9h8.4M300.4 447.7v8.4M345.0 451.6h8.4M349.2 447.4v8.4M311.1 451.4h8.4M315.3 447.2v8.4M329.2 451.8h8.4M333.4 447.6v8.4M316.8 451.4h8.4M321.0 447.2v8.4M292.4 451.6h8.4M296.6 447.4v8.4M321.1 451.9h8.4M325.3 447.7v8.4M308.7 452.0h8.4M312.9 447.8v8.4M324.1 451.9h8.4M328.3 447.7v8.4M313.0 452.9h8.4M317.2 448.7v8.4M314.5 452.2h8.4M318.7 448.0v8.4M345.9 452.3h8.4M350.1 448.1v8.4M294.7 452.1h8.4M298.9 447.9v8.4M334.2 452.7h8.4M338.4 448.5v8.4M290.9 452.3h8.4M295.1 448.1v8.4M307.7 452.1h8.4M311.9 447.9v8.4M312.2 452.8h8.4M316.4 448.6v8.4M350.1 452.3h8.4M354.3 448.1v8.4M291.0 452.8h8.4M295.2 448.6v8.4M317.4 453.8h8.4M321.6 449.6v8.4M313.6 453.1h8.4M317.8 448.9v8.4M312.5 453.4h8.4M316.7 449.2v8.4M319.0 453.6h8.4M323.2 449.4v8.4M346.8 453.0h8.4M351.0 448.8v8.4M335.4 453.7h8.4M339.6 449.5v8.4M315.5 453.6h8.4M319.7 449.4v8.4M345.4 453.5h8.4M349.6 449.3v8.4M315.5 453.4h8.4M319.7 449.2v8.4M290.4 454.7h8.4M294.6 450.5v8.4M337.3 454.3h8.4M341.5 450.1v8.4M313.0 454.3h8.4M317.2 450.1v8.4M296.1 454.9h8.4M300.3 450.7v8.4M308.5 454.1h8.4M312.7 449.9v8.4M345.3 454.6h8.4M349.5 450.4v8.4M312.0 454.9h8.4M316.2 450.7v8.4M309.5 454.8h8.4M313.7 450.6v8.4M349.6 454.1h8.4M353.8 449.9v8.4M295.4 455.8h8.4M299.6 451.6v8.4M322.3 455.1h8.4M326.5 450.9v8.4M311.6 455.0h8.4M315.8 450.8v8.4M297.6 455.8h8.4M301.8 451.6v8.4M312.2 455.4h8.4M316.4 451.2v8.4M325.5 455.6h8.4M329.7 451.4v8.4M345.2 455.5h8.4M349.4 451.3v8.4M316.6 456.0h8.4M320.8 451.8v8.4M340.4 455.3h8.4M344.6 451.1v8.4M323.0 456.4h8.4M327.2 452.2v8.4M316.4 456.6h8.4M320.6 452.4v8.4M308.9 456.8h8.4M313.1 452.6v8.4M315.1 456.6h8.4M319.3 452.4v8.4M339.9 457.0h8.4M344.1 452.8v8.4M354.3 456.3h8.4M358.5 452.1v8.4M328.5 456.5h8.4M332.7 452.3v8.4M335.5 456.8h8.4M339.7 452.6v8.4M302.0 456.5h8.4M306.2 452.3v8.4M315.7 457.6h8.4M319.9 453.4v8.4M355.2 457.9h8.4M359.4 453.7v8.4M340.9 457.1h8.4M345.1 452.9v8.4M309.9 457.5h8.4M314.1 453.3v8.4M313.4 457.9h8.4M317.6 453.7v8.4M378.3 457.4h8.4M382.5 453.2v8.4M314.7 457.1h8.4M318.9 452.9v8.4M333.0 457.0h8.4M337.2 452.8v8.4M323.9 458.9h8.4M328.1 454.7v8.4M326.1 458.0h8.4M330.3 453.8v8.4M350.9 458.8h8.4M355.1 454.6v8.4M305.5 458.5h8.4M309.7 454.3v8.4M314.2 458.0h8.4M318.4 453.8v8.4M293.2 458.9h8.4M297.4 454.7v8.4M302.7 458.1h8.4M306.9 453.9v8.4M332.8 459.3h8.4M337.0 455.1v8.4M353.4 459.6h8.4M357.6 455.4v8.4M340.2 459.3h8.4M344.4 455.1v8.4M363.6 459.8h8.4M367.8 455.6v8.4M340.0 459.5h8.4M344.2 455.3v8.4M316.0 459.8h8.4M320.2 455.6v8.4M313.4 459.4h8.4M317.6 455.2v8.4M345.5 460.0h8.4M349.7 455.8v8.4M338.8 460.5h8.4M343.0 456.3v8.4M293.6 460.9h8.4M297.8 456.7v8.4M298.6 460.5h8.4M302.8 456.3v8.4M299.1 460.9h8.4M303.3 456.7v8.4M321.9 460.9h8.4M326.1 456.7v8.4M362.3 461.1h8.4M366.5 456.9v8.4M324.2 461.1h8.4M328.4 456.9v8.4M340.5 461.7h8.4M344.7 457.5v8.4M362.2 461.2h8.4M366.4 457.0v8.4M310.7 461.7h8.4M314.9 457.5v8.4M316.8 462.1h8.4M321.0 457.9v8.4M324.7 462.5h8.4M328.9 458.3v8.4M302.2 462.7h8.4M306.4 458.5v8.4M319.3 462.6h8.4M323.5 458.4v8.4M335.2 462.6h8.4M339.4 458.4v8.4M315.2 463.2h8.4M319.4 459.0v8.4M343.5 463.3h8.4M347.7 459.1v8.4M356.1 463.9h8.4M360.3 459.7v8.4M339.9 463.1h8.4M344.1 458.9v8.4M319.5 463.7h8.4M323.7 459.5v8.4M308.4 464.3h8.4M312.6 460.1v8.4M329.0 464.8h8.4M333.2 460.6v8.4M309.2 464.1h8.4M313.4 459.9v8.4M323.7 465.3h8.4M327.9 461.1v8.4M295.6 465.1h8.4M299.8 460.9v8.4M309.9 465.6h8.4M314.1 461.4v8.4M302.4 466.8h8.4M306.6 462.6v8.4M341.6 466.6h8.4M345.8 462.4v8.4M342.1 466.9h8.4M346.3 462.7v8.4M316.0 467.9h8.4M320.2 463.7v8.4M335.9 468.0h8.4M340.1 463.8v8.4M320.1 468.8h8.4M324.3 464.6v8.4M322.5 469.3h8.4M326.7 465.1v8.4M267.0 426.7h8.4M271.2 422.5v8.4M267.5 401.4h8.4M271.7 397.2v8.4M266.3 409.1h8.4M270.5 404.9v8.4M261.9 441.5h8.4M266.1 437.3v8.4M258.7 379.9h8.4M262.9 375.7v8.4M271.5 396.3h8.4M275.7 392.1v8.4M277.8 373.0h8.4M282.0 368.8v8.4M276.2 397.3h8.4M280.4 393.1v8.4M285.2 392.5h8.4M289.4 388.3v8.4M267.4 393.8h8.4M271.6 389.6v8.4M271.0 391.1h8.4M275.2 386.9v8.4M275.9 400.9h8.4M280.1 396.7v8.4M277.3 391.9h8.4M281.5 387.7v8.4M268.2 411.8h8.4M272.4 407.6v8.4M277.7 418.9h8.4M281.9 414.7v8.4M267.2 376.4h8.4M271.4 372.2v8.4M255.8 381.0h8.4M260.0 376.8v8.4M258.4 383.8h8.4M262.6 379.6v8.4M275.6 395.6h8.4M279.8 391.4v8.4M284.5 387.5h8.4M288.7 383.3v8.4M260.6 383.7h8.4M264.8 379.5v8.4M257.0 421.2h8.4M261.2 417.0v8.4M272.6 388.8h8.4M276.8 384.6v8.4M281.0 420.7h8.4M285.2 416.5v8.4M267.2 415.6h8.4M271.4 411.4v8.4M275.4 403.1h8.4M279.6 398.9v8.4M255.1 397.3h8.4M259.3 393.1v8.4M285.9 398.0h8.4M290.1 393.8v8.4M256.6 452.7h8.4M260.8 448.5v8.4M314.2 449.3h8.4M318.4 445.1v8.4M278.6 448.0h8.4M282.8 443.8v8.4M336.9 450.5h8.4M341.1 446.3v8.4M374.9 453.5h8.4M379.1 449.3v8.4M362.1 446.4h8.4M366.3 442.2v8.4M375.6 453.5h8.4M379.8 449.3v8.4M327.8 449.9h8.4M332.0 445.7v8.4M264.3 450.8h8.4M268.5 446.6v8.4M261.1 453.5h8.4M265.3 449.3v8.4M362.2 448.7h8.4M366.4 444.5v8.4M281.9 453.2h8.4M286.1 449.0v8.4M331.6 450.9h8.4M335.8 446.7v8.4M255.5 450.3h8.4M259.7 446.1v8.4M354.4 447.9h8.4M358.6 443.7v8.4M285.7 452.9h8.4M289.9 448.7v8.4M329.8 446.5h8.4M334.0 442.3v8.4M339.7 450.4h8.4M343.9 446.2v8.4M308.2 454.1h8.4M312.4 449.9v8.4M319.4 449.7h8.4M323.6 445.5v8.4M250.6 453.6h8.4M254.8 449.4v8.4M291.3 448.6h8.4M295.5 444.4v8.4M369.9 453.3h8.4M374.1 449.1v8.4M325.6 450.8h8.4M329.8 446.6v8.4M249.3 452.4h8.4M253.5 448.2v8.4M320.5 446.3h8.4M324.7 442.1v8.4M266.8 451.7h8.4M271.0 447.5v8.4M377.6 451.7h8.4M381.8 447.5v8.4M246.6 454.2h8.4M250.8 450.0v8.4M359.8 446.6h8.4M364.0 442.4v8.4M324.8 448.0h8.4M329.0 443.8v8.4M254.9 451.1h8.4M259.1 446.9v8.4M338.8 447.7h8.4M343.0 443.5v8.4M327.5 452.2h8.4M331.7 448.0v8.4M306.2 451.9h8.4M310.4 447.7v8.4M364.6 453.1h8.4M368.8 448.9v8.4M337.6 448.4h8.4M341.8 444.2v8.4M375.6 454.2h8.4M379.8 450.0v8.4M354.9 451.9h8.4M359.1 447.7v8.4M358.4 450.0h8.4M362.6 445.8v8.4M351.4 451.7h8.4M355.6 447.5v8.4M361.9 446.5h8.4M366.1 442.3v8.4M307.1 447.0h8.4M311.3 442.8v8.4M284.9 453.6h8.4M289.1 449.4v8.4M262.8 452.5h8.4M267.0 448.3v8.4M299.8 451.2h8.4M304.0 447.0v8.4M371.9 450.5h8.4M376.1 446.3v8.4M306.7 449.7h8.4M310.9 445.5v8.4M259.7 452.0h8.4M263.9 447.8v8.4M354.2 450.8h8.4M358.4 446.6v8.4M257.9 447.0h8.4M262.1 442.8v8.4M362.7 453.5h8.4M366.9 449.3v8.4M345.2 453.0h8.4M349.4 448.8v8.4M359.8 447.8h8.4M364.0 443.6v8.4M313.7 452.3h8.4M317.9 448.1v8.4M285.3 453.5h8.4M289.5 449.3v8.4M301.0 448.1h8.4M305.2 443.9v8.4M339.4 449.2h8.4M343.6 445.0v8.4M310.9 446.3h8.4M315.1 442.1v8.4M305.5 450.8h8.4M309.7 446.6v8.4M297.1 446.7h8.4M301.3 442.5v8.4M265.3 453.4h8.4M269.5 449.2v8.4M250.4 448.5h8.4M254.6 444.3v8.4M268.2 448.8h8.4M272.4 444.6v8.4M321.6 448.2h8.4M325.8 444.0v8.4M259.9 450.6h8.4M264.1 446.4v8.4M256.7 450.8h8.4M260.9 446.6v8.4M344.6 451.4h8.4M348.8 447.2v8.4M338.3 447.7h8.4M342.5 443.5v8.4M339.1 453.0h8.4M343.3 448.8v8.4M300.7 448.6h8.4M304.9 444.4v8.4M361.7 450.9h8.4M365.9 446.7v8.4M347.3 448.5h8.4M351.5 444.3v8.4M295.1 450.2h8.4M299.3 446.0v8.4M334.2 447.6h8.4M338.4 443.4v8.4M292.4 448.8h8.4M296.6 444.6v8.4M377.3 449.3h8.4M381.5 445.1v8.4M279.7 454.2h8.4M283.9 450.0v8.4M249.5 452.6h8.4M253.7 448.4v8.4M345.6 446.3h8.4M349.8 442.1v8.4M292.7 446.9h8.4M296.9 442.7v8.4M291.2 452.4h8.4M295.4 448.2v8.4M374.1 453.3h8.4M378.3 449.1v8.4M367.7 453.7h8.4M371.9 449.5v8.4M315.4 447.6h8.4M319.6 443.4v8.4M274.3 447.8h8.4M278.5 443.6v8.4M288.3 452.6h8.4M292.5 448.4v8.4M355.7 446.9h8.4M359.9 442.7v8.4M328.1 451.5h8.4M332.3 447.3v8.4M338.1 449.6h8.4M342.3 445.4v8.4M323.1 447.4h8.4M327.3 443.2v8.4M345.6 446.3h8.4M349.8 442.1v8.4M317.9 452.2h8.4M322.1 448.0v8.4M308.7 450.2h8.4M312.9 446.0v8.4M254.6 450.5h8.4M258.8 446.3v8.4M323.8 448.4h8.4M328.0 444.2v8.4M275.8 453.7h8.4M280.0 449.5v8.4M362.7 452.4h8.4M366.9 448.2v8.4M319.0 446.3h8.4M323.2 442.1v8.4M340.8 447.1h8.4M345.0 442.9v8.4M311.1 451.8h8.4M315.3 447.6v8.4M366.7 451.4h8.4M370.9 447.2v8.4M354.5 453.6h8.4M358.7 449.4v8.4M340.1 453.4h8.4M344.3 449.2v8.4M283.0 453.2h8.4M287.2 449.0v8.4M352.2 452.0h8.4M356.4 447.8v8.4M365.7 452.9h8.4M369.9 448.7v8.4M374.5 451.0h8.4M378.7 446.8v8.4M334.6 449.6h8.4M338.8 445.4v8.4M312.8 448.0h8.4M317.0 443.8v8.4M358.0 453.3h8.4M362.2 449.1v8.4M337.1 450.5h8.4M341.3 446.3v8.4M334.1 446.3h8.4M338.3 442.1v8.4M374.7 447.9h8.4M378.9 443.7v8.4M255.2 448.3h8.4M259.4 444.1v8.4M279.2 452.9h8.4M283.4 448.7v8.4M365.2 448.4h8.4M369.4 444.2v8.4M314.1 450.0h8.4M318.3 445.8v8.4M331.9 451.9h8.4M336.1 447.7v8.4M245.4 448.4h8.4M249.6 444.2v8.4M355.2 448.3h8.4M359.4 444.1v8.4M345.7 447.8h8.4M349.9 443.6v8.4M287.4 450.6h8.4M291.6 446.4v8.4M356.4 452.8h8.4M360.6 448.6v8.4M337.3 449.1h8.4M341.5 444.9v8.4M288.4 452.4h8.4M292.6 448.2v8.4M262.8 448.2h8.4M267.0 444.0v8.4M246.7 446.6h8.4M250.9 442.4v8.4M262.7 453.7h8.4M266.9 449.5v8.4M345.2 452.9h8.4M349.4 448.7v8.4M317.4 454.5h8.4M321.6 450.3v8.4M296.7 454.4h8.4M300.9 450.2v8.4M372.8 448.8h8.4M377.0 444.6v8.4M287.1 451.7h8.4M291.3 447.5v8.4M346.8 447.7h8.4M351.0 443.5v8.4M350.2 450.5h8.4M354.4 446.3v8.4M286.9 451.2h8.4M291.1 447.0v8.4M355.8 451.9h8.4M360.0 447.7v8.4M308.9 448.5h8.4M313.1 444.3v8.4M298.0 450.0h8.4M302.2 445.8v8.4M323.6 453.7h8.4M327.8 449.5v8.4M281.6 447.7h8.4M285.8 443.5v8.4M358.6 453.9h8.4M362.8 449.7v8.4M293.1 453.8h8.4M297.3 449.6v8.4M376.6 454.5h8.4M380.8 450.3v8.4M253.7 448.3h8.4M257.9 444.1v8.4M246.8 448.3h8.4M251.0 444.1v8.4M336.1 447.5h8.4M340.3 443.3v8.4M289.1 447.0h8.4M293.3 442.8v8.4M258.6 452.9h8.4M262.8 448.7v8.4M280.2 453.0h8.4M284.4 448.8v8.4M342.8 448.7h8.4M347.0 444.5v8.4M284.2 446.6h8.4M288.4 442.4v8.4M298.6 453.9h8.4M302.8 449.7v8.4M280.6 447.0h8.4M284.8 442.8v8.4M264.4 451.8h8.4M268.6 447.6v8.4M275.8 450.2h8.4M280.0 446.0v8.4M361.6 451.5h8.4M365.8 447.3v8.4M328.1 446.7h8.4M332.3 442.5v8.4M356.1 450.5h8.4M360.3 446.3v8.4M310.8 452.5h8.4M315.0 448.3v8.4M282.0 450.5h8.4M286.2 446.3v8.4M245.5 450.6h8.4M249.7 446.4v8.4M349.9 448.0h8.4M354.1 443.8v8.4M323.0 451.1h8.4M327.2 446.9v8.4M313.1 452.0h8.4M317.3 447.8v8.4M328.9 452.8h8.4M333.1 448.6v8.4M260.8 448.4h8.4M265.0 444.2v8.4M292.3 450.3h8.4M296.5 446.1v8.4M378.5 452.4h8.4M382.7 448.2v8.4M338.6 454.0h8.4M342.8 449.8v8.4M329.1 454.3h8.4M333.3 450.1v8.4M362.4 453.0h8.4M366.6 448.8v8.4M264.1 453.0h8.4M268.3 448.8v8.4M291.7 450.1h8.4M295.9 445.9v8.4M364.6 453.9h8.4M368.8 449.7v8.4M293.9 449.3h8.4M298.1 445.1v8.4M271.7 449.1h8.4M275.9 444.9v8.4M308.6 447.3h8.4M312.8 443.1v8.4M299.9 448.3h8.4M304.1 444.1v8.4M288.8 446.4h8.4M293.0 442.2v8.4M353.5 453.6h8.4M357.7 449.4v8.4M280.2 452.0h8.4M284.4 447.8v8.4M374.3 451.7h8.4M378.5 447.5v8.4M251.7 448.6h8.4M255.9 444.4v8.4M376.2 447.4h8.4M380.4 443.2v8.4M255.2 454.4h8.4M259.4 450.2v8.4M353.7 452.5h8.4M357.9 448.3v8.4M277.1 446.5h8.4M281.3 442.3v8.4M255.7 447.8h8.4M259.9 443.6v8.4M368.1 452.8h8.4M372.3 448.6v8.4M374.9 447.5h8.4M379.1 443.3v8.4M295.9 453.0h8.4M300.1 448.8v8.4M350.5 450.8h8.4M354.7 446.6v8.4M310.5 446.6h8.4M314.7 442.4v8.4M341.7 450.5h8.4M345.9 446.3v8.4M296.3 448.5h8.4M300.5 444.3v8.4M358.8 452.1h8.4M363.0 447.9v8.4M342.0 446.5h8.4M346.2 442.3v8.4M279.3 452.6h8.4M283.5 448.4v8.4M336.4 447.9h8.4M340.6 443.7v8.4M330.6 452.0h8.4M334.8 447.8v8.4M357.2 453.7h8.4M361.4 449.5v8.4M314.4 451.7h8.4M318.6 447.5v8.4M342.7 450.5h8.4M346.9 446.3v8.4M326.3 446.5h8.4M330.5 442.3v8.4M300.3 449.0h8.4M304.5 444.8v8.4M274.4 448.8h8.4M278.6 444.6v8.4M363.5 450.0h8.4M367.7 445.8v8.4M288.7 450.5h8.4M292.9 446.3v8.4M349.5 449.5h8.4M353.7 445.3v8.4M373.5 451.3h8.4M377.7 447.1v8.4M291.2 447.1h8.4M295.4 442.9v8.4M299.0 453.7h8.4M303.2 449.5v8.4M346.0 451.0h8.4M350.2 446.8v8.4M289.6 454.6h8.4M293.8 450.4v8.4M324.9 447.8h8.4M329.1 443.6v8.4M339.3 452.3h8.4M343.5 448.1v8.4M278.9 450.3h8.4M283.1 446.1v8.4M341.8 453.8h8.4M346.0 449.6v8.4M348.6 446.3h8.4M352.8 442.1v8.4M316.4 446.8h8.4M320.6 442.6v8.4M334.3 453.5h8.4M338.5 449.3v8.4M313.1 452.9h8.4M317.3 448.7v8.4M364.4 454.1h8.4M368.6 449.9v8.4M272.8 447.4h8.4M277.0 443.2v8.4M300.9 452.1h8.4M305.1 447.9v8.4M333.3 454.2h8.4M337.5 450.0v8.4M332.9 446.2h8.4M337.1 442.0v8.4M247.9 447.3h8.4M252.1 443.1v8.4M287.6 448.7h8.4M291.8 444.5v8.4M315.2 446.5h8.4M319.4 442.3v8.4M335.5 449.6h8.4M339.7 445.4v8.4M308.9 449.3h8.4M313.1 445.1v8.4M280.7 447.7h8.4M284.9 443.5v8.4M318.7 454.3h8.4M322.9 450.1v8.4M287.3 450.7h8.4M291.5 446.5v8.4M375.8 452.1h8.4M380.0 447.9v8.4M279.2 449.9h8.4M283.4 445.7v8.4M295.5 450.9h8.4M299.7 446.7v8.4M301.2 454.5h8.4M305.4 450.3v8.4M312.6 452.5h8.4M316.8 448.3v8.4M351.7 449.4h8.4M355.9 445.2v8.4M271.5 451.4h8.4M275.7 447.2v8.4M270.6 447.7h8.4M274.8 443.5v8.4M343.7 446.4h8.4M347.9 442.2v8.4M285.2 454.2h8.4M289.4 450.0v8.4M339.1 453.3h8.4M343.3 449.1v8.4M321.9 453.4h8.4M326.1 449.2v8.4M349.4 451.6h8.4M353.6 447.4v8.4M291.2 446.9h8.4M295.4 442.7v8.4M326.1 452.0h8.4M330.3 447.8v8.4M320.9 454.3h8.4M325.1 450.1v8.4M354.6 454.3h8.4M358.8 450.1v8.4M303.8 449.7h8.4M308.0 445.5v8.4M261.5 446.8h8.4M265.7 442.6v8.4M268.1 453.8h8.4M272.3 449.6v8.4M362.1 450.9h8.4M366.3 446.7v8.4M368.2 452.2h8.4M372.4 448.0v8.4M277.5 450.9h8.4M281.7 446.7v8.4M355.8 446.6h8.4M360.0 442.4v8.4M290.2 449.7h8.4M294.4 445.5v8.4M376.4 454.5h8.4M380.6 450.3v8.4M373.1 454.2h8.4M377.3 450.0v8.4M320.3 447.9h8.4M324.5 443.7v8.4M325.8 452.6h8.4M330.0 448.4v8.4M340.0 452.0h8.4M344.2 447.8v8.4M262.4 450.1h8.4M266.6 445.9v8.4M269.0 454.4h8.4M273.2 450.2v8.4M262.9 449.9h8.4M267.1 445.7v8.4M326.1 448.1h8.4M330.3 443.9v8.4M330.1 454.0h8.4M334.3 449.8v8.4M340.6 451.1h8.4M344.8 446.9v8.4M301.3 446.3h8.4M305.5 442.1v8.4M314.9 449.0h8.4M319.1 444.8v8.4M310.8 453.3h8.4M315.0 449.1v8.4M357.6 450.3h8.4M361.8 446.1v8.4M357.8 447.2h8.4M362.0 443.0v8.4M246.5 450.3h8.4M250.7 446.1v8.4M372.9 454.0h8.4M377.1 449.8v8.4M311.3 447.1h8.4M315.5 442.9v8.4M329.3 447.6h8.4M333.5 443.4v8.4M280.2 447.8h8.4M284.4 443.6v8.4M378.4 447.4h8.4M382.6 443.2v8.4M350.8 449.0h8.4M355.0 444.8v8.4M277.7 448.2h8.4M281.9 444.0v8.4M358.5 447.1h8.4M362.7 442.9v8.4M363.6 454.4h8.4M367.8 450.2v8.4M281.0 450.3h8.4M285.2 446.1v8.4M261.1 448.2h8.4M265.3 444.0v8.4M321.9 447.3h8.4M326.1 443.1v8.4M253.6 454.0h8.4M257.8 449.8v8.4M324.5 454.3h8.4M328.7 450.1v8.4M297.1 448.3h8.4M301.3 444.1v8.4M329.0 451.2h8.4M333.2 447.0v8.4M348.5 450.6h8.4M352.7 446.4v8.4M334.4 454.2h8.4M338.6 450.0v8.4M309.9 447.4h8.4M314.1 443.2v8.4M302.6 453.2h8.4M306.8 449.0v8.4M373.3 451.1h8.4M377.5 446.9v8.4M375.4 452.9h8.4M379.6 448.7v8.4M258.7 453.9h8.4M262.9 449.7v8.4M368.5 454.0h8.4M372.7 449.8v8.4M371.9 451.3h8.4M376.1 447.1v8.4M324.7 448.1h8.4M328.9 443.9v8.4M344.4 450.0h8.4M348.6 445.8v8.4M319.7 448.4h8.4M323.9 444.2v8.4M362.2 451.4h8.4M366.4 447.2v8.4M354.3 449.9h8.4M358.5 445.7v8.4M302.7 449.2h8.4M306.9 445.0v8.4M366.9 448.7h8.4M371.1 444.5v8.4M273.7 446.3h8.4M277.9 442.1v8.4M348.8 449.0h8.4M353.0 444.8v8.4M349.9 448.9h8.4M354.1 444.7v8.4M362.7 447.4h8.4M366.9 443.2v8.4M320.5 448.5h8.4M324.7 444.3v8.4M315.6 450.6h8.4M319.8 446.4v8.4M252.9 451.5h8.4M257.1 447.3v8.4M338.0 449.5h8.4M342.2 445.3v8.4M277.6 447.3h8.4M281.8 443.1v8.4M319.1 450.6h8.4M323.3 446.4v8.4M315.2 446.2h8.4M319.4 442.0v8.4M373.8 453.6h8.4M378.0 449.4v8.4M332.7 450.5h8.4M336.9 446.3v8.4M357.4 451.6h8.4M361.6 447.4v8.4M346.0 453.9h8.4M350.2 449.7v8.4M355.0 448.9h8.4M359.2 444.7v8.4M357.3 454.3h8.4M361.5 450.1v8.4M316.1 450.6h8.4M320.3 446.4v8.4M281.8 450.7h8.4M286.0 446.5v8.4" stroke="#00bfbf" stroke-width="1.0" fill="none"/>
<path d="M238.4 255.3l8 8M238.4 263.3l8 -8M240.7 261.3l8 8M240.7 269.3l8 -8M228.3 282.7l8 8M228.3 290.7l8 -8M235.3 292.7l8 8M235.3 300.7l8 -8M202.3 310.3l8 8M202.3 318.3l8 -8M223.3 329.3l8 8M223.3 337.3l8 -8M214.7 346.7l8 8M214.7 354.7l8 -8M215.3 348.0l8 8M215.3 356.0l8 -8M240.0 343.3l8 8M240.0 351.3l8 -8M237.3 394.7l8 8M237.3 402.7l8 -8M237.3 395.3l8 8M237.3 403.3l8 -8M228.0 414.0l8 8M228.0 422.0l8 -8M196.0 437.3l8 8M196.0 445.3l8 -8M200.0 438.0l8 8M200.0 446.0l8 -8M214.0 438.7l8 8M214.0 446.7l8 -8M218.7 439.3l8 8M218.7 447.3l8 -8M240.7 450.7l8 8M240.7 458.7l8 -8" stroke="#0000ff" stroke-width="1.0" fill="none"/>
<g fill="#bf00bf" stroke="#000" stroke-width="0.75"><circle cx="191.9" cy="450.0" r="4.4"/><circle cx="194.6" cy="449.8" r="4.4"/><circle cx="195.4" cy="450.1" r="4.4"/><circle cx="196.5" cy="449.9" r="4.4"/><circle cx="199.1" cy="450.4" r="4.4"/><circle cx="199.7" cy="449.5" r="4.4"/><circle cx="201.4" cy="450.5" r="4.4"/><circle cx="204.4" cy="449.1" r="4.4"/><circle cx="206.6" cy="450.7" r="4.4"/><circle cx="207.7" cy="450.1" r="4.4"/><circle cx="208.4" cy="449.0" r="4.4"/><circle cx="210.9" cy="449.1" r="4.4"/><circle cx="211.9" cy="449.4" r="4.4"/><circle cx="213.3" cy="449.8" r="4.4"/><circle cx="215.8" cy="450.5" r="4.4"/><circle cx="217.7" cy="450.2" r="4.4"/><circle cx="219.4" cy="450.2" r="4.4"/><circle cx="221.0" cy="449.5" r="4.4"/><circle cx="223.8" cy="450.8" r="4.4"/><circle cx="225.2" cy="450.3" r="4.4"/><circle cx="225.8" cy="449.4" r="4.4"/><circle cx="227.5" cy="449.1" r="4.4"/><circle cx="230.1" cy="449.7" r="4.4"/><circle cx="232.0" cy="449.7" r="4.4"/><circle cx="233.7" cy="449.4" r="4.4"/><circle cx="233.9" cy="450.5" r="4.4"/><circle cx="237.3" cy="449.8" r="4.4"/><circle cx="239.0" cy="450.1" r="4.4"/><circle cx="239.1" cy="449.7" r="4.4"/><circle cx="242.1" cy="449.5" r="4.4"/><circle cx="242.5" cy="449.6" r="4.4"/><circle cx="245.9" cy="450.4" r="4.4"/></g>
<path d="M100.7 447.4H382.5M100.7 452.4H382.5" stroke="#0000ff" stroke-width="1.3" stroke-dasharray="4.17 6.94 1.39 6.94" fill="none"/>
<path d="M100.7 449.5H382.5" stroke="#ff0000" stroke-width="1.3" stroke-dasharray="8.33 8.33" fill="none"/>
<path d="M100.7 451.4H382.5" stroke="#0000ff" stroke-width="1.3" stroke-dasharray="8.33 8.33" fill="none"/></g><rect x="100.7" y="60.5" width="281.8" height="479.79999999999995" fill="none" stroke="#000" stroke-width="1.3"/><path d="M100.30 540.3v-5.5 M137.90 540.3v-5.5 M175.50 540.3v-5.5 M213.10 540.3v-5.5 M250.70 540.3v-5.5 M288.30 540.3v-5.5 M325.90 540.3v-5.5 M363.50 540.3v-5.5 M115.30 60.5v5.5 M152.87 60.5v5.5 M190.44 60.5v5.5 M228.02 60.5v5.5 M265.59 60.5v5.5 M303.16 60.5v5.5 M340.73 60.5v5.5 M378.30 60.5v5.5 M100.7 540.30h5.5 M382.5 540.30h-5.5 M100.7 420.30h5.5 M382.5 420.30h-5.5 M100.7 300.30h5.5 M382.5 300.30h-5.5 M100.7 180.30h5.5 M382.5 180.30h-5.5 M100.7 60.30h5.5 M382.5 60.30h-5.5 M438.7 487.50h5.5 M720.3 487.50h-5.5 M438.7 354.25h5.5 M720.3 354.25h-5.5 M438.7 221.00h5.5 M720.3 221.00h-5.5 M438.7 87.75h5.5 M720.3 87.75h-5.5 M438.50 540.3v-5.5 M438.50 60.5v5.5 M508.95 540.3v-5.5 M508.95 60.5v5.5 M579.40 540.3v-5.5 M579.40 60.5v5.5 M649.85 540.3v-5.5 M649.85 60.5v5.5 M720.30 540.3v-5.5 M720.30 60.5v5.5" stroke="#000" stroke-width="1" fill="none"/><rect x="438.7" y="148.0" width="2.3000000000000114" height="57.30000000000001" fill="#0000ff" stroke="#000" stroke-width="1.3"/><rect x="438.7" y="205.3" width="13.0" height="58.0" fill="#0000ff" stroke="#000" stroke-width="1.3"/><rect x="438.7" y="263.3" width="224.00000000000006" height="56.89999999999998" fill="#0000ff" stroke="#000" stroke-width="1.3"/><rect x="438.7" y="320.2" width="2.3000000000000114" height="57.10000000000002" fill="#0000ff" stroke="#000" stroke-width="1.3"/><path d="M438.7 293.5H707.7" stroke="#000" stroke-width="1.3" stroke-dasharray="8.33 8.33" fill="none"/><rect x="438.7" y="60.5" width="281.59999999999997" height="479.79999999999995" fill="none" stroke="#000" stroke-width="1.3"/>
<text x="118.2" y="28.9" font-size="20" text-anchor="start" textLength="217" lengthAdjust="spacingAndGlyphs">FWHM vs magnitudes</text><text x="481.0" y="52.5" font-size="20" text-anchor="start" textLength="197.5" lengthAdjust="spacingAndGlyphs">histogram of FWHM</text><text x="115.3" y="49.5" font-size="18.2" text-anchor="middle" textLength="19" lengthAdjust="spacingAndGlyphs">14</text><text x="152.872" y="49.5" font-size="18.2" text-anchor="middle" textLength="19" lengthAdjust="spacingAndGlyphs">16</text><text x="190.44400000000002" y="49.5" font-size="18.2" text-anchor="middle" textLength="19" lengthAdjust="spacingAndGlyphs">18</text><text x="228.01600000000002" y="49.5" font-size="18.2" text-anchor="middle" textLength="19" lengthAdjust="spacingAndGlyphs">20</text><text x="265.588" y="49.5" font-size="18.2" text-anchor="middle" textLength="19" lengthAdjust="spacingAndGlyphs">22</text><text x="303.16" y="49.5" font-size="18.2" text-anchor="middle" textLength="19" lengthAdjust="spacingAndGlyphs">24</text><text x="340.732" y="49.5" font-size="18.2" text-anchor="middle" textLength="19" lengthAdjust="spacingAndGlyphs">26</text><text x="378.30400000000003" y="49.5" font-size="18.2" text-anchor="middle" textLength="19" lengthAdjust="spacingAndGlyphs">28</text><text x="95.0" y="544.6999999999999" font-size="18.2" text-anchor="end" textLength="9.8" lengthAdjust="spacingAndGlyphs">0</text><text x="95.0" y="424.7" font-size="18.2" text-anchor="end" textLength="9.8" lengthAdjust="spacingAndGlyphs">5</text><text x="95.0" y="304.7" font-size="18.2" text-anchor="end" textLength="19.8" lengthAdjust="spacingAndGlyphs">10</text><text x="95.0" y="184.70000000000002" font-size="18.2" text-anchor="end" textLength="19.8" lengthAdjust="spacingAndGlyphs">15</text><text x="95.0" y="64.7" font-size="18.2" text-anchor="end" textLength="19.8" lengthAdjust="spacingAndGlyphs">20</text><text x="100.3" y="560.2" font-size="18.2" text-anchor="middle" textLength="32" lengthAdjust="spacingAndGlyphs">−20</text><text x="137.9" y="560.2" font-size="18.2" text-anchor="middle" textLength="32" lengthAdjust="spacingAndGlyphs">−18</text><text x="175.5" y="560.2" font-size="18.2" text-anchor="middle" textLength="32" lengthAdjust="spacingAndGlyphs">−16</text><text x="213.10000000000002" y="560.2" font-size="18.2" text-anchor="middle" textLength="32" lengthAdjust="spacingAndGlyphs">−14</text><text x="250.7" y="560.2" font-size="18.2" text-anchor="middle" textLength="32" lengthAdjust="spacingAndGlyphs">−12</text><text x="288.3" y="560.2" font-size="18.2" text-anchor="middle" textLength="32" lengthAdjust="spacingAndGlyphs">−10</text><text x="325.90000000000003" y="560.2" font-size="18.2" text-anchor="middle" textLength="22" lengthAdjust="spacingAndGlyphs">−8</text><text x="363.5" y="560.2" font-size="18.2" text-anchor="middle" textLength="22" lengthAdjust="spacingAndGlyphs">−6</text><text x="96.0" y="584.2" font-size="18.2" text-anchor="start" textLength="292" lengthAdjust="spacingAndGlyphs">magnitude (bottom:isnt / top:calib)</text><text x="63.5" y="299.7" font-size="18.2" text-anchor="middle" textLength="94" lengthAdjust="spacingAndGlyphs" transform="rotate(-90 63.5 299.7)">FWHM (pix)</text><text x="395.8" y="299" font-size="18.2" text-anchor="middle" textLength="304" lengthAdjust="spacingAndGlyphs" transform="rotate(-90 395.8 299)">FWHM of best-effort PSF-like sources</text><text x="432.5" y="491.5" font-size="18.2" text-anchor="end" textLength="24.5" lengthAdjust="spacingAndGlyphs">3.0</text><text x="432.5" y="358.25" font-size="18.2" text-anchor="end" textLength="24.5" lengthAdjust="spacingAndGlyphs">3.5</text><text x="432.5" y="225.0" font-size="18.2" text-anchor="end" textLength="24.5" lengthAdjust="spacingAndGlyphs">4.0</text><text x="432.5" y="91.75" font-size="18.2" text-anchor="end" textLength="24.5" lengthAdjust="spacingAndGlyphs">4.5</text><text x="438.5" y="560.2" font-size="18.2" text-anchor="middle" textLength="9.5" lengthAdjust="spacingAndGlyphs">0</text><text x="508.95" y="560.2" font-size="18.2" text-anchor="middle" textLength="19" lengthAdjust="spacingAndGlyphs">50</text><text x="579.4" y="560.2" font-size="18.2" text-anchor="middle" textLength="29" lengthAdjust="spacingAndGlyphs">100</text><text x="649.85" y="560.2" font-size="18.2" text-anchor="middle" textLength="29" lengthAdjust="spacingAndGlyphs">150</text><text x="720.3" y="560.2" font-size="18.2" text-anchor="middle" textLength="29" lengthAdjust="spacingAndGlyphs">200</text><text x="502.5" y="584.2" font-size="18.2" text-anchor="start" textLength="154" lengthAdjust="spacingAndGlyphs">number of sources</text>
<rect x="27.6" y="70.4" width="345.0" height="179.9" fill="#fff" stroke="#000" stroke-width="1.3"/><path d="M37.30 86.70h8.40M41.50 82.50v8.40M65.40 86.70h8.40M69.60 82.50v8.40" stroke="#00bfbf" stroke-width="1" fill="none"/><path d="M37.50 111.60l8.00 8.00M37.50 119.60l8.00 -8.00M65.60 111.60l8.00 8.00M65.60 119.60l8.00 -8.00" stroke="#0000ff" stroke-width="1" fill="none"/><circle cx="41.5" cy="144.4" r="4.3" fill="#bf00bf" stroke="#000" stroke-width="0.8"/><circle cx="69.6" cy="144.4" r="4.3" fill="#bf00bf" stroke="#000" stroke-width="0.8"/><path d="M41.3 173.3H69.6" stroke="#0000ff" stroke-width="1.4" stroke-dasharray="8.6 8" fill="none"/><path d="M41.3 202.3H69.6" stroke="#ff0000" stroke-width="1.4" stroke-dasharray="8.6 8" fill="none"/><path d="M41.3 231.4H69.6" stroke="#0000ff" stroke-width="1.4" stroke-dasharray="4.5 6.7 1.7 6.6 4.5 10" fill="none"/>
<text x="91.2" y="92.9" font-size="20" text-anchor="start" textLength="102" lengthAdjust="spacingAndGlyphs">all sample</text><text x="91.2" y="121.8" font-size="20" text-anchor="start" textLength="242" lengthAdjust="spacingAndGlyphs">sample for rough FWHM</text><text x="91.2" y="150.6" font-size="20" text-anchor="start" textLength="270" lengthAdjust="spacingAndGlyphs">best-effort PSF-like sample</text><text x="91.2" y="179.5" font-size="20" text-anchor="start" textLength="219" lengthAdjust="spacingAndGlyphs">resultant FWHM: 3.73</text><text x="91.2" y="208.5" font-size="20" text-anchor="start" textLength="275" lengthAdjust="spacingAndGlyphs">median FHWM of sequence</text><text x="91.2" y="237.6" font-size="20" text-anchor="start" textLength="125" lengthAdjust="spacingAndGlyphs">sigma range</text>
</svg></body></html>
